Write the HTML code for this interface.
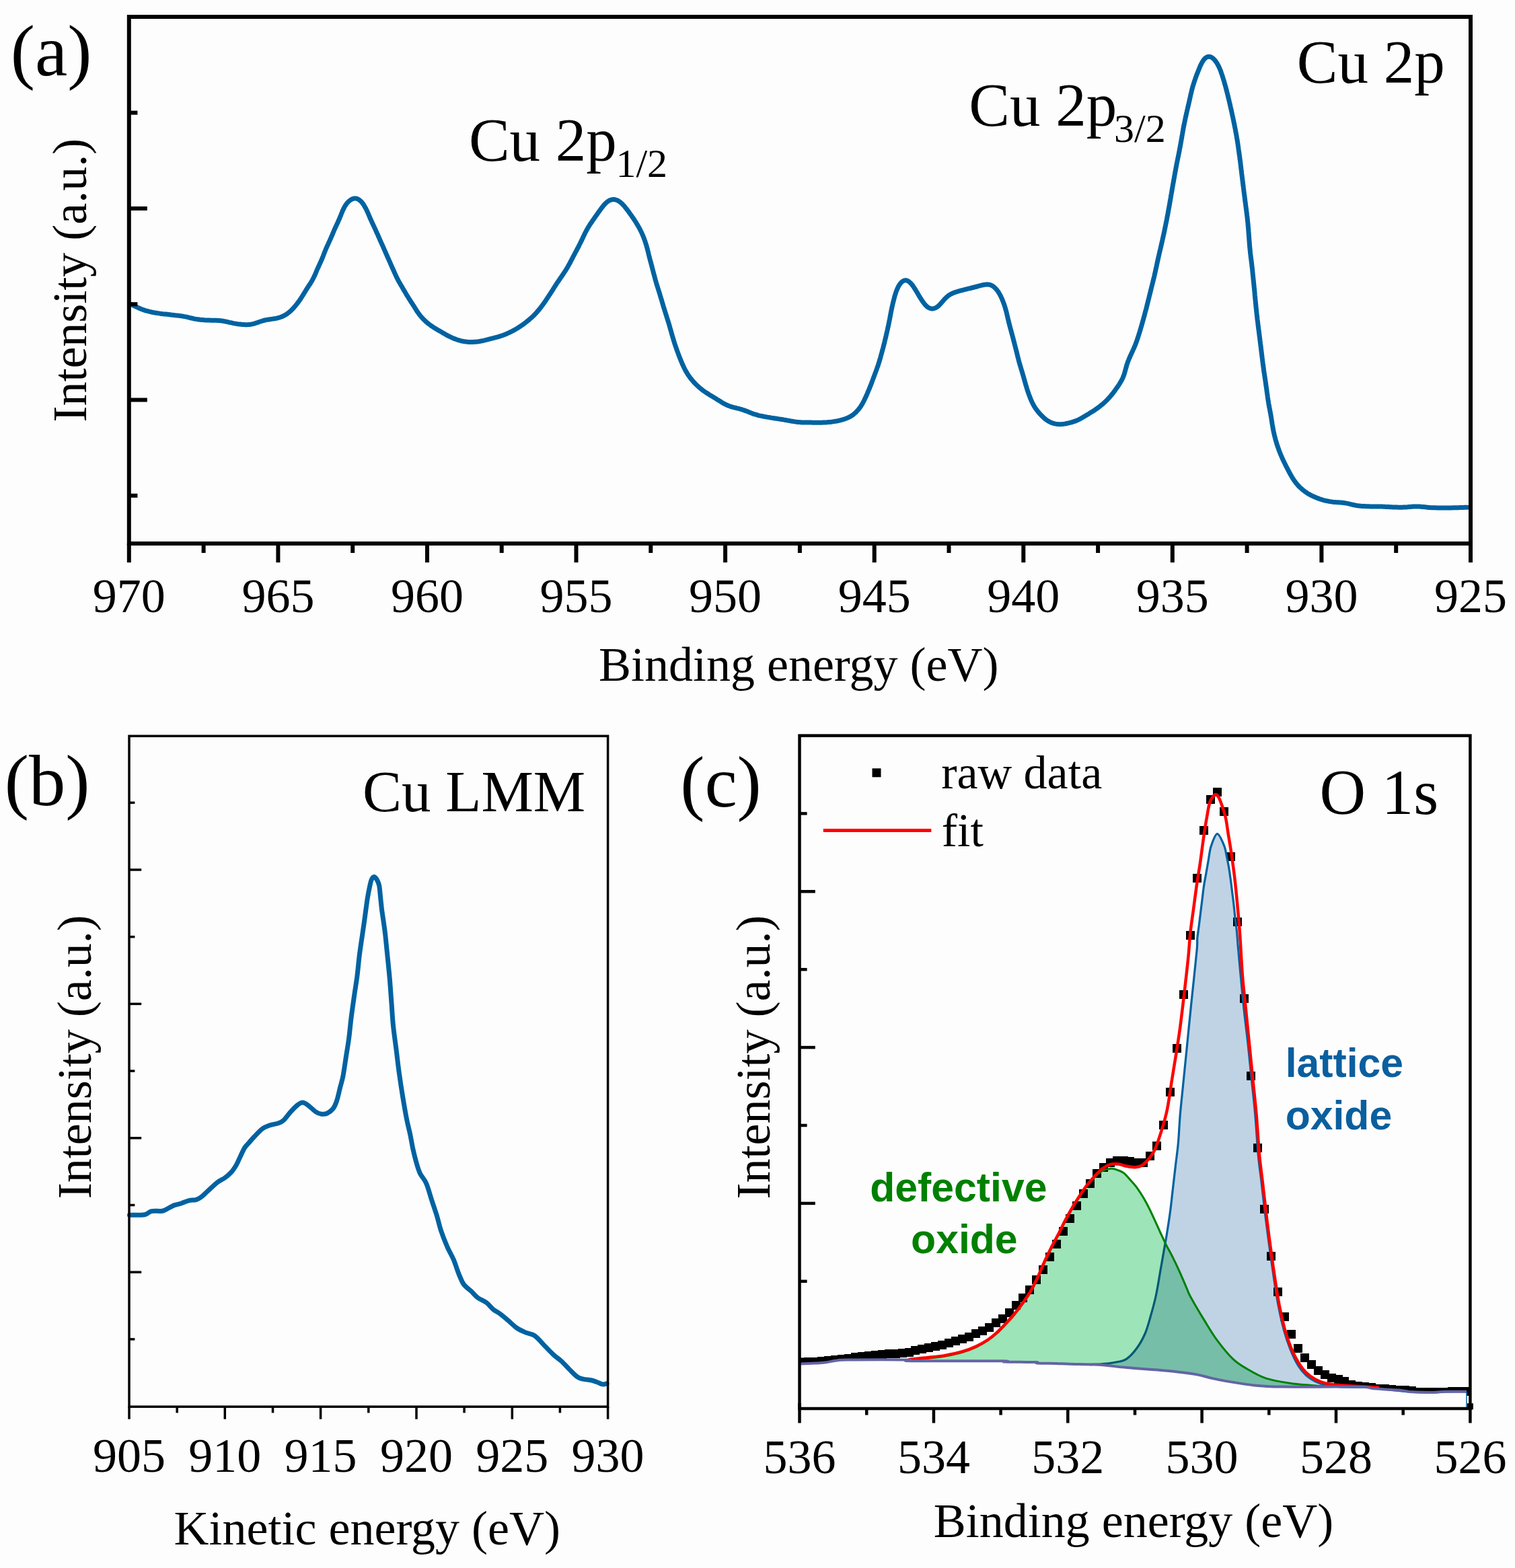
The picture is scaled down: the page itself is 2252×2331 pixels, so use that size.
<!DOCTYPE html>
<html><head><meta charset="utf-8"><title>XPS spectra</title>
<style>html,body{margin:0;padding:0;background:#fdfdfd;}svg{display:block;}</style></head>
<body><svg xmlns="http://www.w3.org/2000/svg" width="2252" height="2331" viewBox="0 0 2252 2331">
<rect width="2252" height="2331" fill="#fdfdfd"/>
<clipPath id="clipc"><rect x="1188.5" y="1093.6" width="996.9000000000001" height="1000.4000000000001"/></clipPath>
<g fill="#000" clip-path="url(#clipc)">
<rect x="1185.0" y="2020.0" width="13.0" height="13.0"/>
<rect x="1195.0" y="2018.0" width="13.0" height="13.0"/>
<rect x="1205.0" y="2018.0" width="13.0" height="13.0"/>
<rect x="1215.0" y="2017.0" width="13.0" height="13.0"/>
<rect x="1225.0" y="2016.0" width="13.0" height="13.0"/>
<rect x="1235.0" y="2015.0" width="13.0" height="13.0"/>
<rect x="1245.0" y="2014.0" width="13.0" height="13.0"/>
<rect x="1255.0" y="2013.0" width="13.0" height="13.0"/>
<rect x="1265.0" y="2011.0" width="13.0" height="13.0"/>
<rect x="1275.0" y="2010.0" width="13.0" height="13.0"/>
<rect x="1285.0" y="2009.0" width="13.0" height="13.0"/>
<rect x="1295.0" y="2008.0" width="13.0" height="13.0"/>
<rect x="1305.0" y="2007.0" width="13.0" height="13.0"/>
<rect x="1315.0" y="2006.0" width="13.0" height="13.0"/>
<rect x="1325.0" y="2006.0" width="13.0" height="13.0"/>
<rect x="1335.0" y="2005.0" width="13.0" height="13.0"/>
<rect x="1345.0" y="2004.0" width="13.0" height="13.0"/>
<rect x="1354.0" y="2001.0" width="13.0" height="13.0"/>
<rect x="1364.0" y="1999.0" width="13.0" height="13.0"/>
<rect x="1374.0" y="1997.0" width="13.0" height="13.0"/>
<rect x="1384.0" y="1995.0" width="13.0" height="13.0"/>
<rect x="1394.0" y="1993.0" width="13.0" height="13.0"/>
<rect x="1404.0" y="1990.0" width="13.0" height="13.0"/>
<rect x="1414.0" y="1987.0" width="13.0" height="13.0"/>
<rect x="1424.0" y="1984.0" width="13.0" height="13.0"/>
<rect x="1434.0" y="1981.0" width="13.0" height="13.0"/>
<rect x="1444.0" y="1976.0" width="13.0" height="13.0"/>
<rect x="1454.0" y="1972.0" width="13.0" height="13.0"/>
<rect x="1464.0" y="1967.0" width="13.0" height="13.0"/>
<rect x="1474.0" y="1960.0" width="13.0" height="13.0"/>
<rect x="1484.0" y="1954.0" width="13.0" height="13.0"/>
<rect x="1494.0" y="1945.0" width="13.0" height="13.0"/>
<rect x="1504.0" y="1934.0" width="13.0" height="13.0"/>
<rect x="1514.0" y="1923.0" width="13.0" height="13.0"/>
<rect x="1524.0" y="1911.0" width="13.0" height="13.0"/>
<rect x="1534.0" y="1896.0" width="13.0" height="13.0"/>
<rect x="1544.0" y="1881.0" width="13.0" height="13.0"/>
<rect x="1554.0" y="1862.0" width="13.0" height="13.0"/>
<rect x="1564.0" y="1843.0" width="13.0" height="13.0"/>
<rect x="1574.0" y="1824.0" width="13.0" height="13.0"/>
<rect x="1584.0" y="1805.0" width="13.0" height="13.0"/>
<rect x="1594.0" y="1786.0" width="13.0" height="13.0"/>
<rect x="1604.0" y="1768.0" width="13.0" height="13.0"/>
<rect x="1614.0" y="1753.0" width="13.0" height="13.0"/>
<rect x="1624.0" y="1738.0" width="13.0" height="13.0"/>
<rect x="1634.0" y="1729.0" width="13.0" height="13.0"/>
<rect x="1644.0" y="1722.0" width="13.0" height="13.0"/>
<rect x="1654.0" y="1719.0" width="13.0" height="13.0"/>
<rect x="1664.0" y="1719.0" width="13.0" height="13.0"/>
<rect x="1673.0" y="1720.0" width="13.0" height="13.0"/>
<rect x="1683.0" y="1722.0" width="13.0" height="13.0"/>
<rect x="1693.0" y="1722.0" width="13.0" height="13.0"/>
<rect x="1703.0" y="1712.0" width="13.0" height="13.0"/>
<rect x="1713.0" y="1697.0" width="13.0" height="13.0"/>
<rect x="1723.0" y="1666.0" width="13.0" height="13.0"/>
<rect x="1733.0" y="1617.0" width="13.0" height="13.0"/>
<rect x="1743.0" y="1552.0" width="13.0" height="13.0"/>
<rect x="1753.0" y="1472.0" width="13.0" height="13.0"/>
<rect x="1763.0" y="1384.0" width="13.0" height="13.0"/>
<rect x="1773.0" y="1299.0" width="13.0" height="13.0"/>
<rect x="1783.0" y="1228.0" width="13.0" height="13.0"/>
<rect x="1793.0" y="1182.0" width="13.0" height="13.0"/>
<rect x="1803.0" y="1171.0" width="13.0" height="13.0"/>
<rect x="1813.0" y="1200.0" width="13.0" height="13.0"/>
<rect x="1823.0" y="1267.0" width="13.0" height="13.0"/>
<rect x="1833.0" y="1364.0" width="13.0" height="13.0"/>
<rect x="1843.0" y="1478.0" width="13.0" height="13.0"/>
<rect x="1853.0" y="1593.0" width="13.0" height="13.0"/>
<rect x="1863.0" y="1700.0" width="13.0" height="13.0"/>
<rect x="1873.0" y="1791.0" width="13.0" height="13.0"/>
<rect x="1883.0" y="1861.0" width="13.0" height="13.0"/>
<rect x="1893.0" y="1914.0" width="13.0" height="13.0"/>
<rect x="1903.0" y="1951.0" width="13.0" height="13.0"/>
<rect x="1913.0" y="1977.0" width="13.0" height="13.0"/>
<rect x="1923.0" y="1998.0" width="13.0" height="13.0"/>
<rect x="1933.0" y="2012.0" width="13.0" height="13.0"/>
<rect x="1943.0" y="2022.0" width="13.0" height="13.0"/>
<rect x="1953.0" y="2031.0" width="13.0" height="13.0"/>
<rect x="1963.0" y="2037.0" width="13.0" height="13.0"/>
<rect x="1973.0" y="2042.0" width="13.0" height="13.0"/>
<rect x="1983.0" y="2044.0" width="13.0" height="13.0"/>
<rect x="1992.0" y="2047.0" width="13.0" height="13.0"/>
<rect x="2002.0" y="2052.0" width="13.0" height="13.0"/>
<rect x="2012.0" y="2054.0" width="13.0" height="13.0"/>
<rect x="2022.0" y="2055.0" width="13.0" height="13.0"/>
<rect x="2032.0" y="2056.0" width="13.0" height="13.0"/>
<rect x="2042.0" y="2058.0" width="13.0" height="13.0"/>
<rect x="2052.0" y="2058.0" width="13.0" height="13.0"/>
<rect x="2062.0" y="2059.0" width="13.0" height="13.0"/>
<rect x="2072.0" y="2060.0" width="13.0" height="13.0"/>
<rect x="2082.0" y="2060.0" width="13.0" height="13.0"/>
<rect x="2092.0" y="2061.0" width="13.0" height="13.0"/>
<rect x="2102.0" y="2063.0" width="13.0" height="13.0"/>
<rect x="2112.0" y="2063.0" width="13.0" height="13.0"/>
<rect x="2122.0" y="2063.0" width="13.0" height="13.0"/>
<rect x="2132.0" y="2063.0" width="13.0" height="13.0"/>
<rect x="2142.0" y="2063.0" width="13.0" height="13.0"/>
<rect x="2152.0" y="2062.0" width="13.0" height="13.0"/>
<rect x="2162.0" y="2062.0" width="13.0" height="13.0"/>
<rect x="2172.0" y="2062.0" width="13.0" height="13.0"/>
<rect x="2182.0" y="2062.0" width="13.0" height="13.0"/>
</g>
<path d="M1188.5,2027.5C1192.5,2027.3 1206.2,2026.8 1212.5,2026.5C1218.8,2026.2 1220.7,2026.2 1226.0,2025.5C1231.3,2024.8 1238.4,2023.2 1244.1,2022.5C1249.8,2021.8 1242.4,2021.8 1260.0,2021.6C1277.6,2021.4 1334.0,2021.3 1349.7,2021.6C1365.4,2021.9 1330.8,2022.9 1354.0,2023.2C1377.2,2023.5 1465.8,2023.1 1489.0,2023.3C1512.2,2023.5 1484.5,2024.3 1493.0,2024.6C1501.5,2024.9 1531.5,2024.8 1539.7,2025.1C1547.9,2025.4 1537.0,2026.1 1542.0,2026.4C1547.0,2026.7 1562.0,2026.8 1570.0,2027.0C1578.0,2027.2 1579.6,2027.5 1590.0,2027.8C1600.4,2028.1 1618.1,2027.9 1632.2,2028.8C1646.3,2029.7 1660.4,2031.8 1674.5,2033.0C1688.6,2034.2 1704.0,2035.1 1716.7,2036.2C1729.4,2037.3 1739.9,2038.2 1750.5,2039.4C1761.1,2040.6 1771.6,2042.0 1780.1,2043.6C1788.5,2045.2 1794.2,2047.3 1801.2,2048.9C1808.2,2050.5 1811.7,2051.3 1822.3,2053.1C1832.9,2054.8 1850.5,2058.0 1864.6,2059.4C1878.7,2060.8 1885.9,2061.2 1906.8,2061.6C1927.7,2062.0 1969.7,2061.5 1990.0,2061.6C2010.3,2061.7 2020.5,2061.7 2028.8,2062.1C2037.1,2062.5 2034.7,2063.5 2039.9,2064.1C2045.1,2064.7 2053.2,2065.1 2059.8,2065.5C2066.5,2065.9 2074.6,2066.2 2079.8,2066.6C2085.0,2067.0 2087.6,2067.8 2090.9,2068.2C2094.2,2068.6 2093.2,2069.0 2099.7,2069.3C2106.2,2069.6 2121.4,2070.0 2129.7,2069.9C2138.0,2069.8 2141.2,2069.0 2149.6,2068.8C2158.0,2068.6 2174.9,2068.8 2180.0,2068.8L2180.0,2094.0L1188.5,2094.0Z" fill="#fdfdfd"/>
<g>
<path d="M1620.0,2028.6C1623.2,2028.4 1633.3,2028.0 1639.3,2027.5C1645.3,2027.0 1650.2,2026.7 1656.0,2025.5C1661.8,2024.3 1668.6,2023.9 1674.3,2020.3C1680.0,2016.7 1685.3,2010.4 1690.0,2004.0C1694.7,1997.6 1698.8,1990.2 1702.3,1982.0C1705.8,1973.8 1708.1,1964.3 1710.8,1955.0C1713.5,1945.7 1715.9,1937.0 1718.3,1926.0C1720.7,1915.0 1722.9,1900.5 1724.9,1889.0C1726.9,1877.5 1728.9,1866.1 1730.5,1857.1C1732.1,1848.0 1732.9,1844.0 1734.4,1834.7C1735.9,1825.4 1738.0,1812.2 1739.5,1801.0C1741.0,1789.8 1742.1,1778.5 1743.4,1767.3C1744.7,1756.1 1746.0,1744.9 1747.3,1733.7C1748.6,1722.5 1750.1,1712.7 1751.3,1700.0C1752.5,1687.3 1753.0,1671.8 1754.2,1657.5C1755.4,1643.2 1756.8,1631.5 1758.5,1614.2C1760.2,1596.9 1762.6,1573.8 1764.6,1553.5C1766.6,1533.2 1768.3,1515.9 1770.7,1492.7C1773.1,1469.5 1777.4,1430.5 1778.9,1414.2C1780.4,1397.9 1779.2,1401.3 1779.8,1394.8C1780.4,1388.3 1781.5,1381.9 1782.3,1375.4C1783.1,1368.9 1783.9,1362.5 1784.7,1356.0C1785.5,1349.5 1786.3,1343.1 1787.1,1336.6C1787.9,1330.1 1788.5,1323.7 1789.5,1317.2C1790.5,1310.8 1791.8,1304.4 1792.9,1297.9C1794.0,1291.5 1795.1,1285.1 1796.3,1278.5C1797.5,1271.9 1798.0,1264.6 1800.2,1258.1C1802.4,1251.6 1806.2,1239.9 1809.4,1239.7C1812.6,1239.5 1817.2,1251.4 1819.6,1257.1C1821.9,1262.8 1822.4,1268.4 1823.5,1273.6C1824.6,1278.8 1825.4,1282.5 1826.4,1288.2C1827.4,1293.9 1828.4,1301.0 1829.3,1307.5C1830.2,1314.0 1830.9,1320.4 1831.7,1326.9C1832.5,1333.4 1833.4,1339.8 1834.1,1346.3C1834.8,1352.8 1835.4,1359.2 1836.1,1365.7C1836.8,1372.2 1837.8,1378.6 1838.5,1385.1C1839.2,1391.6 1839.2,1395.3 1840.0,1404.5C1840.8,1413.7 1841.7,1424.1 1843.2,1440.0C1844.7,1455.9 1847.0,1481.1 1849.0,1500.0C1851.0,1518.9 1853.3,1535.9 1855.2,1553.5C1857.1,1571.1 1858.7,1588.2 1860.5,1605.5C1862.3,1622.8 1864.2,1639.0 1865.8,1657.5C1867.4,1676.0 1868.7,1700.2 1870.2,1716.5C1871.7,1732.8 1873.1,1740.7 1874.8,1755.1C1876.5,1769.5 1878.4,1787.6 1880.3,1802.9C1882.2,1818.2 1884.0,1832.0 1886.0,1847.0C1888.0,1862.0 1890.2,1877.5 1892.5,1893.0C1894.8,1908.5 1897.3,1925.9 1900.0,1940.0C1902.7,1954.1 1905.5,1966.5 1908.5,1977.5C1911.5,1988.5 1914.6,1997.4 1918.0,2006.0C1921.4,2014.6 1925.2,2022.7 1929.0,2029.0C1932.8,2035.3 1936.5,2039.8 1941.0,2044.0C1945.5,2048.2 1950.8,2051.4 1956.0,2054.0C1961.2,2056.6 1966.3,2058.2 1972.0,2059.5C1977.7,2060.8 1980.3,2061.2 1990.0,2061.6C1999.7,2062.0 2018.3,2061.4 2030.0,2062.1C2041.7,2062.8 2048.3,2064.3 2060.0,2065.5C2071.7,2066.7 2088.3,2068.6 2100.0,2069.3C2111.7,2070.0 2121.7,2070.0 2130.0,2069.9C2138.3,2069.8 2141.7,2069.0 2150.0,2068.8C2158.3,2068.6 2174.7,2068.8 2179.6,2068.8L2179.6,2068.8L2170.1,2068.8L2160.6,2068.8L2151.1,2068.8L2141.7,2069.2L2132.2,2069.8L2122.7,2069.8L2113.2,2069.6L2103.7,2069.4L2094.2,2068.6L2084.8,2067.3L2075.3,2066.4L2065.8,2065.8L2056.3,2065.3L2046.8,2064.6L2037.3,2063.6L2027.8,2062.1L2018.4,2062.0L2008.9,2061.8L1999.4,2061.7L1989.9,2061.6L1980.4,2061.6L1970.9,2061.6L1961.5,2061.6L1952.0,2061.6L1942.5,2061.6L1933.0,2061.6L1923.5,2061.6L1914.0,2061.6L1904.5,2061.5L1895.1,2061.0L1885.6,2060.5L1876.1,2060.0L1866.6,2059.5L1857.1,2058.3L1847.6,2056.9L1838.1,2055.5L1828.7,2054.0L1819.2,2052.5L1809.7,2050.6L1800.2,2048.7L1790.7,2046.3L1781.2,2043.9L1771.8,2042.4L1762.3,2041.1L1752.8,2039.7L1743.3,2038.7L1733.8,2037.8L1724.3,2036.9L1714.8,2036.1L1705.4,2035.3L1695.9,2034.6L1686.4,2033.9L1676.9,2033.2L1667.4,2032.3L1657.9,2031.4L1648.5,2030.4L1639.0,2029.5L1629.5,2028.7L1620.0,2028.5Z" fill="#c1d5e7" stroke="none" style="mix-blend-mode:multiply"/>
<path d="M1620.0,2028.6C1623.2,2028.4 1633.3,2028.0 1639.3,2027.5C1645.3,2027.0 1650.2,2026.7 1656.0,2025.5C1661.8,2024.3 1668.6,2023.9 1674.3,2020.3C1680.0,2016.7 1685.3,2010.4 1690.0,2004.0C1694.7,1997.6 1698.8,1990.2 1702.3,1982.0C1705.8,1973.8 1708.1,1964.3 1710.8,1955.0C1713.5,1945.7 1715.9,1937.0 1718.3,1926.0C1720.7,1915.0 1722.9,1900.5 1724.9,1889.0C1726.9,1877.5 1728.9,1866.1 1730.5,1857.1C1732.1,1848.0 1732.9,1844.0 1734.4,1834.7C1735.9,1825.4 1738.0,1812.2 1739.5,1801.0C1741.0,1789.8 1742.1,1778.5 1743.4,1767.3C1744.7,1756.1 1746.0,1744.9 1747.3,1733.7C1748.6,1722.5 1750.1,1712.7 1751.3,1700.0C1752.5,1687.3 1753.0,1671.8 1754.2,1657.5C1755.4,1643.2 1756.8,1631.5 1758.5,1614.2C1760.2,1596.9 1762.6,1573.8 1764.6,1553.5C1766.6,1533.2 1768.3,1515.9 1770.7,1492.7C1773.1,1469.5 1777.4,1430.5 1778.9,1414.2C1780.4,1397.9 1779.2,1401.3 1779.8,1394.8C1780.4,1388.3 1781.5,1381.9 1782.3,1375.4C1783.1,1368.9 1783.9,1362.5 1784.7,1356.0C1785.5,1349.5 1786.3,1343.1 1787.1,1336.6C1787.9,1330.1 1788.5,1323.7 1789.5,1317.2C1790.5,1310.8 1791.8,1304.4 1792.9,1297.9C1794.0,1291.5 1795.1,1285.1 1796.3,1278.5C1797.5,1271.9 1798.0,1264.6 1800.2,1258.1C1802.4,1251.6 1806.2,1239.9 1809.4,1239.7C1812.6,1239.5 1817.2,1251.4 1819.6,1257.1C1821.9,1262.8 1822.4,1268.4 1823.5,1273.6C1824.6,1278.8 1825.4,1282.5 1826.4,1288.2C1827.4,1293.9 1828.4,1301.0 1829.3,1307.5C1830.2,1314.0 1830.9,1320.4 1831.7,1326.9C1832.5,1333.4 1833.4,1339.8 1834.1,1346.3C1834.8,1352.8 1835.4,1359.2 1836.1,1365.7C1836.8,1372.2 1837.8,1378.6 1838.5,1385.1C1839.2,1391.6 1839.2,1395.3 1840.0,1404.5C1840.8,1413.7 1841.7,1424.1 1843.2,1440.0C1844.7,1455.9 1847.0,1481.1 1849.0,1500.0C1851.0,1518.9 1853.3,1535.9 1855.2,1553.5C1857.1,1571.1 1858.7,1588.2 1860.5,1605.5C1862.3,1622.8 1864.2,1639.0 1865.8,1657.5C1867.4,1676.0 1868.7,1700.2 1870.2,1716.5C1871.7,1732.8 1873.1,1740.7 1874.8,1755.1C1876.5,1769.5 1878.4,1787.6 1880.3,1802.9C1882.2,1818.2 1884.0,1832.0 1886.0,1847.0C1888.0,1862.0 1890.2,1877.5 1892.5,1893.0C1894.8,1908.5 1897.3,1925.9 1900.0,1940.0C1902.7,1954.1 1905.5,1966.5 1908.5,1977.5C1911.5,1988.5 1914.6,1997.4 1918.0,2006.0C1921.4,2014.6 1925.2,2022.7 1929.0,2029.0C1932.8,2035.3 1936.5,2039.8 1941.0,2044.0C1945.5,2048.2 1950.8,2051.4 1956.0,2054.0C1961.2,2056.6 1966.3,2058.2 1972.0,2059.5C1977.7,2060.8 1980.3,2061.2 1990.0,2061.6C1999.7,2062.0 2018.3,2061.4 2030.0,2062.1C2041.7,2062.8 2048.3,2064.3 2060.0,2065.5C2071.7,2066.7 2088.3,2068.6 2100.0,2069.3C2111.7,2070.0 2121.7,2070.0 2130.0,2069.9C2138.3,2069.8 2141.7,2069.0 2150.0,2068.8C2158.3,2068.6 2174.7,2068.8 2179.6,2068.8" fill="none" stroke="#0062a1" stroke-width="3.2" stroke-linejoin="round"/>
<path d="M1350.5,2021.4C1355.4,2021.0 1370.9,2020.1 1380.0,2019.2C1389.1,2018.3 1396.8,2017.4 1405.3,2015.9C1413.8,2014.4 1423.1,2012.4 1430.7,2010.2C1438.3,2008.0 1444.7,2005.5 1451.0,2002.6C1457.3,1999.6 1463.6,1995.9 1468.7,1992.5C1473.8,1989.1 1477.2,1986.2 1481.4,1982.4C1485.6,1978.6 1489.8,1974.1 1494.0,1969.7C1498.2,1965.3 1502.5,1960.9 1506.7,1955.8C1510.9,1950.7 1515.2,1945.2 1519.4,1939.3C1523.6,1933.4 1528.3,1926.8 1532.1,1920.3C1535.9,1913.8 1538.8,1907.6 1542.2,1900.5C1545.6,1893.4 1548.7,1885.2 1552.2,1877.5C1555.8,1869.8 1559.9,1861.2 1563.5,1854.1C1567.1,1847.0 1570.3,1841.3 1573.7,1834.7C1577.1,1828.1 1580.5,1820.8 1583.9,1814.3C1587.3,1807.8 1590.7,1801.7 1594.1,1795.9C1597.5,1790.1 1600.7,1785.0 1604.3,1779.6C1607.9,1774.1 1611.8,1768.0 1615.5,1763.2C1619.2,1758.4 1623.0,1754.2 1626.7,1750.5C1630.5,1746.8 1633.8,1743.2 1638.0,1741.0C1642.2,1738.8 1648.1,1737.4 1652.2,1737.2C1656.3,1737.0 1659.3,1738.7 1662.4,1739.8C1665.5,1740.9 1667.7,1741.6 1670.6,1743.9C1673.5,1746.2 1676.6,1750.0 1680.0,1753.9C1683.4,1757.8 1687.5,1762.1 1691.2,1767.3C1694.9,1772.5 1698.7,1778.5 1702.4,1785.3C1706.2,1792.0 1710.0,1799.9 1713.7,1807.8C1717.5,1815.7 1721.7,1825.6 1724.9,1832.5C1728.1,1839.4 1729.8,1843.3 1732.8,1849.3C1735.8,1855.3 1739.5,1861.7 1742.9,1868.4C1746.3,1875.1 1749.5,1881.9 1753.0,1889.7C1756.5,1897.5 1761.5,1909.2 1764.2,1915.5C1767.0,1921.8 1765.1,1919.5 1769.5,1927.5C1773.9,1935.5 1783.9,1952.5 1790.6,1963.4C1797.3,1974.3 1802.5,1983.4 1809.6,1992.9C1816.6,2002.4 1825.5,2013.4 1832.9,2020.4C1840.3,2027.5 1845.9,2030.5 1854.0,2035.2C1862.1,2040.0 1870.9,2045.4 1881.4,2048.9C1892.0,2052.4 1906.0,2054.6 1917.3,2056.3C1928.6,2058.1 1938.5,2058.5 1949.0,2059.4C1959.5,2060.3 1974.8,2061.2 1980.0,2061.6L1980.0,2061.6L1969.3,2061.6L1958.7,2061.6L1948.0,2061.6L1937.3,2061.6L1926.7,2061.6L1916.0,2061.6L1905.3,2061.5L1894.6,2061.0L1884.0,2060.4L1873.3,2059.9L1862.6,2059.1L1852.0,2057.5L1841.3,2055.9L1830.6,2054.3L1820.0,2052.6L1809.3,2050.5L1798.6,2048.3L1787.9,2045.6L1777.3,2043.2L1766.6,2041.7L1755.9,2040.2L1745.3,2038.9L1734.6,2037.9L1723.9,2036.9L1713.3,2035.9L1702.6,2035.1L1691.9,2034.3L1681.3,2033.5L1670.6,2032.6L1659.9,2031.6L1649.2,2030.5L1638.6,2029.4L1627.9,2028.7L1617.2,2028.4L1606.6,2028.2L1595.9,2027.9L1585.2,2027.6L1574.6,2027.2L1563.9,2026.9L1553.2,2026.6L1542.6,2026.4L1531.9,2025.0L1521.2,2024.9L1510.5,2024.8L1499.9,2024.7L1489.2,2023.4L1478.5,2023.3L1467.9,2023.3L1457.2,2023.3L1446.5,2023.3L1435.9,2023.3L1425.2,2023.3L1414.5,2023.2L1403.8,2023.2L1393.2,2023.2L1382.5,2023.2L1371.8,2023.2L1361.2,2023.2L1350.5,2021.9Z" fill="#9ee6ba" stroke="none" style="mix-blend-mode:multiply"/>
</g>
<path d="M1350.5,2021.4C1355.4,2021.0 1370.9,2020.1 1380.0,2019.2C1389.1,2018.3 1396.8,2017.4 1405.3,2015.9C1413.8,2014.4 1423.1,2012.4 1430.7,2010.2C1438.3,2008.0 1444.7,2005.5 1451.0,2002.6C1457.3,1999.6 1463.6,1995.9 1468.7,1992.5C1473.8,1989.1 1477.2,1986.2 1481.4,1982.4C1485.6,1978.6 1489.8,1974.1 1494.0,1969.7C1498.2,1965.3 1502.5,1960.9 1506.7,1955.8C1510.9,1950.7 1515.2,1945.2 1519.4,1939.3C1523.6,1933.4 1528.3,1926.8 1532.1,1920.3C1535.9,1913.8 1538.8,1907.6 1542.2,1900.5C1545.6,1893.4 1548.7,1885.2 1552.2,1877.5C1555.8,1869.8 1559.9,1861.2 1563.5,1854.1C1567.1,1847.0 1570.3,1841.3 1573.7,1834.7C1577.1,1828.1 1580.5,1820.8 1583.9,1814.3C1587.3,1807.8 1590.7,1801.7 1594.1,1795.9C1597.5,1790.1 1600.7,1785.0 1604.3,1779.6C1607.9,1774.1 1611.8,1768.0 1615.5,1763.2C1619.2,1758.4 1623.0,1754.2 1626.7,1750.5C1630.5,1746.8 1633.8,1743.2 1638.0,1741.0C1642.2,1738.8 1648.1,1737.4 1652.2,1737.2C1656.3,1737.0 1659.3,1738.7 1662.4,1739.8C1665.5,1740.9 1667.7,1741.6 1670.6,1743.9C1673.5,1746.2 1676.6,1750.0 1680.0,1753.9C1683.4,1757.8 1687.5,1762.1 1691.2,1767.3C1694.9,1772.5 1698.7,1778.5 1702.4,1785.3C1706.2,1792.0 1710.0,1799.9 1713.7,1807.8C1717.5,1815.7 1721.7,1825.6 1724.9,1832.5C1728.1,1839.4 1729.8,1843.3 1732.8,1849.3C1735.8,1855.3 1739.5,1861.7 1742.9,1868.4C1746.3,1875.1 1749.5,1881.9 1753.0,1889.7C1756.5,1897.5 1761.5,1909.2 1764.2,1915.5C1767.0,1921.8 1765.1,1919.5 1769.5,1927.5C1773.9,1935.5 1783.9,1952.5 1790.6,1963.4C1797.3,1974.3 1802.5,1983.4 1809.6,1992.9C1816.6,2002.4 1825.5,2013.4 1832.9,2020.4C1840.3,2027.5 1845.9,2030.5 1854.0,2035.2C1862.1,2040.0 1870.9,2045.4 1881.4,2048.9C1892.0,2052.4 1906.0,2054.6 1917.3,2056.3C1928.6,2058.1 1938.5,2058.5 1949.0,2059.4C1959.5,2060.3 1974.8,2061.2 1980.0,2061.6" fill="none" stroke="#008000" stroke-width="3" stroke-linejoin="round"/>
<path d="M1350.5,2021.0C1355.4,2020.5 1370.9,2019.1 1380.0,2018.1C1389.1,2017.1 1396.8,2016.4 1405.3,2014.9C1413.8,2013.4 1423.1,2011.4 1430.7,2009.2C1438.3,2007.0 1444.7,2004.5 1451.0,2001.6C1457.3,1998.6 1463.6,1994.9 1468.7,1991.5C1473.8,1988.1 1477.2,1985.2 1481.4,1981.4C1485.6,1977.6 1489.8,1973.1 1494.0,1968.7C1498.2,1964.3 1502.5,1959.9 1506.7,1954.8C1510.9,1949.7 1515.2,1944.2 1519.4,1938.3C1523.6,1932.4 1528.3,1925.8 1532.1,1919.3C1535.9,1912.8 1538.8,1906.6 1542.2,1899.5C1545.6,1892.4 1548.7,1884.2 1552.2,1876.5C1555.8,1868.8 1559.9,1860.2 1563.5,1853.1C1567.1,1846.0 1570.3,1840.3 1573.7,1833.7C1577.1,1827.1 1580.5,1819.8 1583.9,1813.3C1587.3,1806.8 1590.7,1800.7 1594.1,1794.9C1597.5,1789.1 1600.7,1784.0 1604.3,1778.6C1607.9,1773.1 1611.8,1767.1 1615.5,1762.2C1619.2,1757.3 1623.0,1753.1 1626.7,1749.0C1630.5,1744.9 1634.1,1740.8 1638.0,1737.8C1641.9,1734.8 1646.1,1732.3 1650.2,1731.1C1654.3,1729.9 1658.3,1730.2 1662.4,1730.6C1666.5,1731.0 1670.6,1732.9 1674.7,1733.7C1678.8,1734.5 1683.2,1735.4 1686.9,1735.2C1690.6,1735.0 1694.0,1734.3 1697.1,1732.7C1700.2,1731.1 1702.8,1728.2 1705.3,1725.5C1707.8,1722.8 1710.3,1719.5 1712.4,1716.3C1714.5,1713.1 1715.3,1712.4 1717.8,1706.1C1720.3,1699.8 1724.4,1687.9 1727.3,1678.4C1730.2,1668.9 1732.6,1661.1 1735.1,1648.9C1737.5,1636.8 1739.7,1620.0 1742.0,1605.5C1744.3,1591.0 1747.0,1575.1 1749.0,1562.1C1751.0,1549.1 1752.3,1541.6 1754.2,1527.4C1756.1,1513.2 1758.3,1494.4 1760.3,1477.1C1762.3,1459.8 1764.8,1438.5 1766.3,1423.4C1767.8,1408.3 1768.1,1398.8 1769.4,1386.5C1770.7,1374.2 1772.7,1362.0 1774.3,1349.8C1775.9,1337.6 1777.6,1324.3 1779.2,1313.1C1780.8,1301.9 1782.5,1293.6 1784.1,1282.4C1785.7,1271.2 1787.4,1256.9 1789.0,1245.7C1790.6,1234.5 1792.2,1224.2 1793.9,1215.1C1795.6,1206.0 1796.5,1196.7 1799.0,1191.2C1801.5,1185.7 1805.6,1178.6 1809.2,1182.0C1812.8,1185.4 1818.0,1201.8 1820.8,1211.4C1823.5,1221.0 1824.1,1229.8 1825.7,1239.6C1827.3,1249.4 1829.0,1259.0 1830.6,1270.2C1832.2,1281.4 1834.1,1294.7 1835.5,1306.9C1836.9,1319.2 1838.0,1330.4 1839.2,1343.7C1840.4,1357.0 1841.6,1368.9 1842.9,1386.5C1844.2,1404.1 1845.3,1430.2 1846.8,1449.4C1848.3,1468.6 1850.3,1484.1 1852.0,1501.4C1853.7,1518.8 1855.5,1536.2 1857.2,1553.5C1858.9,1570.8 1860.7,1588.2 1862.4,1605.5C1864.1,1622.8 1866.0,1639.0 1867.6,1657.5C1869.2,1676.0 1870.5,1700.2 1872.0,1716.5C1873.5,1732.8 1874.8,1740.7 1876.5,1755.1C1878.2,1769.5 1880.2,1787.6 1882.0,1802.9C1883.8,1818.2 1885.6,1832.0 1887.6,1847.0C1889.6,1862.0 1891.7,1877.6 1894.0,1892.9C1896.3,1908.2 1898.7,1925.0 1901.3,1938.8C1903.9,1952.6 1906.7,1964.8 1909.6,1975.5C1912.5,1986.2 1915.4,1994.8 1918.8,2003.1C1922.2,2011.4 1926.1,2019.0 1929.8,2025.1C1933.5,2031.2 1936.5,2035.5 1940.8,2039.8C1945.1,2044.1 1950.6,2048.0 1955.5,2050.8C1960.4,2053.6 1964.7,2055.0 1970.2,2056.4C1975.7,2057.8 1982.0,2058.4 1988.6,2059.1C1995.2,2059.8 1999.8,2059.9 2010.0,2060.5C2020.2,2061.1 2043.3,2062.2 2050.0,2062.5" fill="none" stroke="#ff0000" stroke-width="4.5" stroke-linejoin="round"/>
<path d="M1188.5,2027.5C1192.5,2027.3 1206.2,2026.8 1212.5,2026.5C1218.8,2026.2 1220.7,2026.2 1226.0,2025.5C1231.3,2024.8 1238.4,2023.2 1244.1,2022.5C1249.8,2021.8 1242.4,2021.8 1260.0,2021.6C1277.6,2021.4 1334.0,2021.3 1349.7,2021.6C1365.4,2021.9 1330.8,2022.9 1354.0,2023.2C1377.2,2023.5 1465.8,2023.1 1489.0,2023.3C1512.2,2023.5 1484.5,2024.3 1493.0,2024.6C1501.5,2024.9 1531.5,2024.8 1539.7,2025.1C1547.9,2025.4 1537.0,2026.1 1542.0,2026.4C1547.0,2026.7 1562.0,2026.8 1570.0,2027.0C1578.0,2027.2 1579.6,2027.5 1590.0,2027.8C1600.4,2028.1 1618.1,2027.9 1632.2,2028.8C1646.3,2029.7 1660.4,2031.8 1674.5,2033.0C1688.6,2034.2 1704.0,2035.1 1716.7,2036.2C1729.4,2037.3 1739.9,2038.2 1750.5,2039.4C1761.1,2040.6 1771.6,2042.0 1780.1,2043.6C1788.5,2045.2 1794.2,2047.3 1801.2,2048.9C1808.2,2050.5 1811.7,2051.3 1822.3,2053.1C1832.9,2054.8 1850.5,2058.0 1864.6,2059.4C1878.7,2060.8 1885.9,2061.2 1906.8,2061.6C1927.7,2062.0 1969.7,2061.5 1990.0,2061.6C2010.3,2061.7 2020.5,2061.7 2028.8,2062.1C2037.1,2062.5 2034.7,2063.5 2039.9,2064.1C2045.1,2064.7 2053.2,2065.1 2059.8,2065.5C2066.5,2065.9 2074.6,2066.2 2079.8,2066.6C2085.0,2067.0 2087.6,2067.8 2090.9,2068.2C2094.2,2068.6 2093.2,2069.0 2099.7,2069.3C2106.2,2069.6 2121.4,2070.0 2129.7,2069.9C2138.0,2069.8 2141.2,2069.0 2149.6,2068.8C2158.0,2068.6 2174.9,2068.8 2180.0,2068.8" fill="none" stroke="#6464a4" stroke-width="4" stroke-linejoin="round"/>
<rect x="1186" y="2086" width="5" height="8" fill="#000"/>
<rect x="2180.6" y="2086.2" width="9.3" height="9.2" fill="#000"/>
<line x1="2180" y1="2069" x2="2180" y2="2092" stroke="#0062a1" stroke-width="1.5"/>
<path d="M193.9,452.2L194.9,452.6L196.1,453.2L197.5,453.8L199.0,454.5L200.6,455.2L202.4,456.0L204.1,456.9L205.9,457.7L207.7,458.5L209.5,459.3L211.4,460.0L213.2,460.7L215.1,461.3L217.0,461.9L218.9,462.4L220.9,462.9L222.8,463.4L224.8,463.8L226.7,464.3L228.7,464.6L230.6,465.0L232.6,465.3L234.6,465.6L236.6,465.9L238.5,466.2L240.5,466.4L242.5,466.7L244.5,466.9L246.5,467.1L248.5,467.3L250.5,467.5L252.5,467.7L254.4,468.0L256.4,468.2L258.4,468.4L260.4,468.7L262.4,468.9L264.4,469.1L266.4,469.4L268.3,469.6L270.3,469.9L272.3,470.2L274.2,470.6L276.2,470.9L278.1,471.4L280.1,471.8L282.0,472.3L283.9,472.8L285.9,473.2L287.8,473.7L289.8,474.1L291.7,474.4L293.7,474.7L295.7,475.0L297.7,475.3L299.7,475.5L301.6,475.6L303.6,475.8L305.6,475.9L307.6,476.0L309.6,476.1L311.6,476.1L313.6,476.2L315.6,476.2L317.6,476.2L319.6,476.2L321.6,476.3L323.6,476.4L325.6,476.5L327.6,476.7L329.5,476.9L331.5,477.2L333.5,477.6L335.4,478.0L337.4,478.4L339.3,478.8L341.3,479.3L343.2,479.7L345.2,480.2L347.1,480.6L349.1,480.9L351.0,481.3L353.0,481.6L355.0,481.9L357.0,482.1L358.9,482.3L360.9,482.5L362.9,482.6L364.9,482.7L366.9,482.7L368.9,482.6L370.8,482.4L372.8,482.2L374.7,481.8L376.7,481.4L378.6,480.9L380.4,480.3L382.3,479.7L384.2,479.0L386.1,478.3L387.9,477.7L389.8,477.1L391.7,476.5L393.6,476.0L395.6,475.6L397.5,475.3L399.5,475.0L401.4,474.7L403.4,474.4L405.4,474.1L407.4,473.8L409.3,473.5L411.3,473.1L413.2,472.6L415.1,472.1L417.0,471.5L418.8,470.8L420.6,470.0L422.4,469.1L424.1,468.2L425.8,467.1L427.4,466.0L429.0,464.8L430.5,463.6L432.0,462.2L433.4,460.9L434.8,459.5L436.2,458.0L437.5,456.5L438.8,455.0L440.1,453.5L441.3,451.9L442.6,450.3L443.7,448.7L444.9,447.1L446.0,445.4L447.2,443.8L448.2,442.1L449.3,440.4L450.4,438.7L451.4,437.0L452.4,435.3L453.5,433.6L454.5,431.9L455.6,430.2L456.7,428.5L457.7,426.8L458.8,425.2L459.9,423.5L461.0,421.8L462.1,420.1L463.1,418.4L464.1,416.7L465.1,414.9L466.0,413.2L466.8,411.4L467.7,409.6L468.5,407.8L469.3,405.9L470.1,404.1L470.8,402.2L471.6,400.4L472.4,398.6L473.3,396.8L474.1,394.9L474.9,393.1L475.8,391.3L476.6,389.5L477.4,387.7L478.2,385.8L479.0,384.0L479.7,382.1L480.5,380.3L481.2,378.4L481.9,376.6L482.6,374.7L483.4,372.8L484.1,371.0L484.9,369.1L485.7,367.3L486.5,365.5L487.4,363.7L488.2,361.9L489.0,360.0L489.9,358.2L490.7,356.4L491.5,354.6L492.3,352.7L493.1,350.9L493.9,349.1L494.7,347.2L495.4,345.4L496.2,343.5L497.0,341.7L497.8,339.9L498.6,338.1L499.5,336.2L500.3,334.4L501.2,332.6L502.0,330.8L502.8,329.0L503.6,327.1L504.4,325.3L505.2,323.5L505.9,321.6L506.7,319.8L507.4,317.9L508.2,316.1L508.9,314.2L509.7,312.4L510.6,310.6L511.5,308.8L512.4,307.1L513.4,305.4L514.6,303.8L515.7,302.2L517.0,300.8L518.4,299.4L519.8,298.2L521.3,297.1L522.9,296.2L524.5,295.5L526.1,295.1L527.8,294.9L529.5,295.1L531.1,295.5L532.6,296.3L534.1,297.2L535.6,298.4L536.9,299.7L538.2,301.1L539.4,302.7L540.5,304.3L541.5,306.0L542.5,307.7L543.5,309.4L544.4,311.2L545.3,313.0L546.1,314.8L546.9,316.6L547.7,318.5L548.5,320.3L549.3,322.1L550.0,324.0L550.8,325.8L551.7,327.6L552.5,329.4L553.3,331.3L554.2,333.1L555.0,334.9L555.9,336.7L556.7,338.5L557.6,340.3L558.4,342.1L559.2,344.0L560.0,345.8L560.9,347.6L561.7,349.4L562.5,351.3L563.3,353.1L564.1,354.9L564.9,356.8L565.7,358.6L566.5,360.4L567.3,362.2L568.2,364.1L569.0,365.9L569.8,367.7L570.6,369.6L571.4,371.4L572.2,373.2L573.0,375.0L573.8,376.9L574.6,378.7L575.4,380.5L576.2,382.4L577.1,384.2L577.9,386.0L578.7,387.9L579.5,389.7L580.3,391.5L581.1,393.3L581.9,395.2L582.7,397.0L583.5,398.8L584.4,400.7L585.2,402.5L586.0,404.3L586.8,406.1L587.6,408.0L588.5,409.8L589.3,411.6L590.2,413.4L591.1,415.1L592.0,416.9L593.0,418.7L594.0,420.4L595.0,422.2L596.0,423.9L597.0,425.6L598.0,427.3L599.0,429.1L600.0,430.8L601.0,432.5L602.1,434.2L603.1,435.9L604.1,437.7L605.1,439.4L606.2,441.1L607.2,442.8L608.3,444.5L609.4,446.2L610.4,447.8L611.5,449.5L612.6,451.2L613.7,452.9L614.8,454.6L615.9,456.2L616.9,457.9L618.0,459.6L619.0,461.3L620.1,463.0L621.2,464.6L622.4,466.2L623.5,467.8L624.8,469.4L626.0,470.9L627.4,472.4L628.7,473.8L630.1,475.2L631.6,476.6L633.0,478.0L634.5,479.3L636.0,480.6L637.6,481.8L639.2,483.0L640.8,484.2L642.5,485.3L644.1,486.4L645.8,487.5L647.5,488.5L649.2,489.6L650.9,490.6L652.7,491.6L654.4,492.6L656.1,493.6L657.8,494.6L659.6,495.6L661.3,496.6L663.0,497.6L664.8,498.6L666.6,499.5L668.4,500.4L670.2,501.2L672.0,502.1L673.8,502.9L675.7,503.6L677.5,504.3L679.4,505.0L681.3,505.6L683.2,506.2L685.1,506.7L687.1,507.1L689.0,507.5L691.0,507.8L692.9,508.1L694.9,508.3L696.9,508.4L698.9,508.4L700.9,508.5L702.9,508.4L704.9,508.3L706.8,508.2L708.8,508.0L710.8,507.8L712.8,507.5L714.7,507.1L716.7,506.7L718.6,506.3L720.6,505.8L722.5,505.4L724.5,504.9L726.4,504.4L728.3,503.9L730.3,503.4L732.2,502.9L734.2,502.4L736.1,501.9L738.0,501.4L739.9,500.9L741.9,500.3L743.8,499.7L745.7,499.1L747.5,498.4L749.4,497.7L751.3,497.0L753.1,496.2L754.9,495.4L756.8,494.6L758.6,493.7L760.3,492.8L762.1,491.9L763.9,491.0L765.6,490.0L767.3,489.0L769.1,488.0L770.7,486.9L772.4,485.8L774.1,484.7L775.7,483.6L777.4,482.4L779.0,481.2L780.6,480.0L782.2,478.8L783.7,477.6L785.3,476.3L786.8,475.0L788.3,473.7L789.8,472.4L791.3,471.0L792.7,469.7L794.1,468.3L795.5,466.8L796.9,465.4L798.2,463.9L799.5,462.4L800.8,460.9L802.1,459.3L803.3,457.7L804.5,456.2L805.7,454.5L806.9,452.9L808.1,451.3L809.2,449.7L810.4,448.0L811.5,446.4L812.6,444.7L813.7,443.1L814.8,441.4L815.9,439.7L817.0,438.0L818.1,436.4L819.2,434.7L820.3,433.0L821.4,431.3L822.4,429.6L823.5,427.9L824.6,426.2L825.6,424.6L826.7,422.9L827.8,421.2L828.9,419.5L830.0,417.9L831.2,416.2L832.3,414.6L833.4,412.9L834.6,411.3L835.7,409.6L836.8,408.0L837.9,406.3L839.0,404.6L840.1,403.0L841.2,401.3L842.2,399.6L843.3,397.9L844.3,396.1L845.2,394.4L846.2,392.6L847.2,390.9L848.1,389.1L849.0,387.3L849.9,385.6L850.9,383.8L851.8,382.0L852.7,380.2L853.7,378.5L854.6,376.7L855.5,374.9L856.5,373.2L857.4,371.4L858.3,369.6L859.3,367.9L860.2,366.1L861.1,364.3L862.0,362.5L862.9,360.7L863.8,358.9L864.7,357.1L865.5,355.3L866.4,353.5L867.2,351.7L868.1,349.9L868.9,348.1L869.8,346.3L870.7,344.5L871.7,342.8L872.6,341.0L873.6,339.3L874.6,337.6L875.7,335.9L876.7,334.2L877.8,332.5L878.9,330.9L880.1,329.2L881.2,327.6L882.4,325.9L883.5,324.3L884.7,322.7L885.8,321.0L887.0,319.4L888.1,317.8L889.3,316.1L890.4,314.5L891.6,312.9L892.8,311.2L894.0,309.6L895.2,308.0L896.4,306.5L897.7,304.9L899.0,303.5L900.3,302.1L901.8,300.8L903.3,299.6L904.8,298.6L906.5,297.7L908.2,297.1L909.9,296.7L911.7,296.5L913.5,296.6L915.2,297.0L916.9,297.5L918.6,298.3L920.2,299.3L921.8,300.4L923.2,301.6L924.7,302.9L926.0,304.4L927.4,305.8L928.7,307.3L929.9,308.9L931.2,310.5L932.4,312.0L933.6,313.6L934.8,315.2L936.0,316.9L937.1,318.5L938.3,320.1L939.4,321.7L940.6,323.4L941.7,325.0L942.8,326.7L943.9,328.4L945.0,330.1L946.0,331.8L947.1,333.5L948.1,335.2L949.1,336.9L950.1,338.7L951.0,340.4L951.9,342.2L952.8,344.0L953.7,345.8L954.5,347.6L955.3,349.4L956.1,351.3L956.8,353.1L957.5,355.0L958.2,356.9L958.9,358.8L959.5,360.7L960.1,362.6L960.7,364.5L961.2,366.4L961.8,368.3L962.3,370.3L962.8,372.2L963.3,374.1L963.8,376.1L964.2,378.0L964.7,380.0L965.2,381.9L965.7,383.8L966.2,385.8L966.7,387.7L967.3,389.6L967.8,391.6L968.3,393.5L968.8,395.4L969.3,397.4L969.8,399.3L970.3,401.2L970.8,403.2L971.3,405.1L971.8,407.0L972.3,409.0L972.9,410.9L973.4,412.8L973.9,414.8L974.4,416.7L975.0,418.6L975.5,420.5L976.1,422.5L976.7,424.4L977.3,426.3L977.9,428.2L978.5,430.1L979.1,432.0L979.7,433.9L980.3,435.8L980.9,437.7L981.4,439.7L982.0,441.6L982.6,443.5L983.2,445.4L983.8,447.3L984.3,449.2L984.9,451.2L985.5,453.1L986.0,455.0L986.6,456.9L987.2,458.8L987.8,460.7L988.4,462.6L989.0,464.5L989.6,466.5L990.2,468.4L990.8,470.3L991.4,472.2L992.0,474.1L992.6,476.0L993.2,477.9L993.8,479.8L994.4,481.7L994.9,483.6L995.5,485.6L996.0,487.5L996.6,489.4L997.1,491.3L997.7,493.3L998.2,495.2L998.8,497.1L999.3,499.0L999.9,500.9L1000.5,502.9L1001.0,504.8L1001.6,506.7L1002.2,508.6L1002.8,510.5L1003.4,512.4L1004.1,514.3L1004.7,516.2L1005.4,518.1L1006.0,520.0L1006.7,521.9L1007.4,523.7L1008.1,525.6L1008.8,527.5L1009.5,529.4L1010.2,531.2L1011.0,533.1L1011.7,534.9L1012.5,536.8L1013.3,538.6L1014.0,540.5L1014.8,542.3L1015.7,544.1L1016.5,545.9L1017.4,547.7L1018.3,549.5L1019.2,551.3L1020.2,553.0L1021.3,554.7L1022.3,556.4L1023.4,558.0L1024.6,559.7L1025.7,561.3L1026.9,562.9L1028.2,564.4L1029.5,566.0L1030.8,567.5L1032.1,568.9L1033.5,570.4L1034.9,571.8L1036.4,573.2L1037.8,574.5L1039.3,575.9L1040.8,577.2L1042.4,578.4L1043.9,579.7L1045.5,580.8L1047.2,582.0L1048.8,583.1L1050.5,584.2L1052.2,585.3L1053.9,586.4L1055.6,587.4L1057.3,588.4L1059.0,589.5L1060.7,590.5L1062.4,591.6L1064.1,592.6L1065.8,593.7L1067.5,594.7L1069.2,595.8L1070.9,596.8L1072.6,597.9L1074.3,598.9L1076.0,599.9L1077.8,600.9L1079.5,601.7L1081.3,602.6L1083.2,603.3L1085.0,604.0L1086.9,604.6L1088.8,605.2L1090.7,605.7L1092.7,606.1L1094.6,606.6L1096.6,607.1L1098.5,607.5L1100.4,608.1L1102.3,608.6L1104.2,609.3L1106.1,609.9L1108.0,610.6L1109.8,611.3L1111.7,612.1L1113.5,612.8L1115.4,613.5L1117.3,614.2L1119.1,614.9L1121.0,615.6L1122.9,616.2L1124.8,616.7L1126.8,617.3L1128.7,617.8L1130.6,618.2L1132.6,618.6L1134.5,619.0L1136.5,619.4L1138.5,619.7L1140.4,620.1L1142.4,620.4L1144.4,620.7L1146.4,621.1L1148.3,621.4L1150.3,621.7L1152.3,622.0L1154.3,622.3L1156.3,622.6L1158.2,622.9L1160.2,623.2L1162.2,623.5L1164.2,623.8L1166.1,624.2L1168.1,624.5L1170.1,624.9L1172.0,625.2L1174.0,625.6L1176.0,626.0L1177.9,626.3L1179.9,626.6L1181.9,626.9L1183.9,627.2L1185.8,627.4L1187.8,627.6L1189.8,627.7L1191.8,627.9L1193.8,627.9L1195.8,628.0L1197.8,628.1L1199.8,628.1L1201.8,628.1L1203.8,628.1L1205.8,628.1L1207.8,628.2L1209.8,628.2L1211.8,628.2L1213.8,628.2L1215.8,628.2L1217.8,628.2L1219.8,628.2L1221.8,628.2L1223.8,628.1L1225.8,628.0L1227.8,627.9L1229.8,627.8L1231.8,627.6L1233.8,627.4L1235.7,627.2L1237.7,626.9L1239.7,626.6L1241.7,626.3L1243.6,626.0L1245.6,625.6L1247.5,625.1L1249.5,624.7L1251.4,624.2L1253.3,623.6L1255.2,623.0L1257.1,622.4L1258.9,621.6L1260.8,620.8L1262.5,620.0L1264.3,619.0L1265.9,618.0L1267.6,616.9L1269.1,615.7L1270.6,614.4L1272.1,613.1L1273.4,611.7L1274.8,610.2L1276.1,608.7L1277.3,607.1L1278.5,605.5L1279.6,603.9L1280.7,602.2L1281.7,600.5L1282.7,598.8L1283.6,597.0L1284.5,595.2L1285.4,593.4L1286.2,591.6L1287.1,589.8L1287.9,588.0L1288.7,586.2L1289.5,584.3L1290.2,582.5L1291.0,580.6L1291.8,578.8L1292.6,576.9L1293.3,575.1L1294.1,573.2L1294.8,571.4L1295.5,569.5L1296.2,567.6L1296.9,565.8L1297.6,563.9L1298.3,562.0L1299.0,560.1L1299.7,558.3L1300.4,556.4L1301.1,554.5L1301.8,552.6L1302.5,550.8L1303.2,548.9L1303.8,547.0L1304.5,545.1L1305.2,543.2L1305.8,541.3L1306.4,539.4L1307.0,537.5L1307.6,535.6L1308.1,533.7L1308.7,531.7L1309.2,529.8L1309.7,527.9L1310.3,526.0L1310.8,524.0L1311.3,522.1L1311.8,520.2L1312.4,518.2L1312.9,516.3L1313.4,514.4L1313.9,512.4L1314.4,510.5L1314.9,508.6L1315.3,506.6L1315.8,504.7L1316.3,502.7L1316.7,500.8L1317.2,498.8L1317.6,496.9L1318.1,494.9L1318.5,493.0L1319.0,491.0L1319.4,489.1L1319.8,487.1L1320.3,485.2L1320.7,483.2L1321.1,481.3L1321.5,479.3L1321.9,477.3L1322.3,475.4L1322.7,473.4L1323.0,471.5L1323.4,469.5L1323.8,467.5L1324.1,465.6L1324.5,463.6L1324.9,461.6L1325.3,459.7L1325.7,457.7L1326.1,455.8L1326.6,453.8L1327.0,451.9L1327.5,449.9L1328.0,448.0L1328.5,446.0L1329.0,444.1L1329.5,442.2L1330.0,440.2L1330.6,438.3L1331.2,436.4L1331.8,434.5L1332.5,432.6L1333.2,430.8L1334.0,429.0L1334.8,427.2L1335.7,425.5L1336.7,423.8L1337.8,422.2L1338.9,420.8L1340.2,419.5L1341.5,418.4L1342.9,417.5L1344.3,417.0L1345.8,416.7L1347.3,416.8L1348.7,417.3L1350.2,418.0L1351.6,419.0L1352.9,420.2L1354.2,421.5L1355.5,423.0L1356.7,424.5L1357.8,426.2L1358.9,427.8L1360.0,429.5L1361.1,431.2L1362.1,432.9L1363.1,434.6L1364.1,436.3L1365.1,438.1L1366.1,439.8L1367.2,441.5L1368.2,443.2L1369.3,444.9L1370.4,446.6L1371.5,448.2L1372.7,449.8L1373.9,451.4L1375.1,452.9L1376.4,454.3L1377.8,455.6L1379.2,456.7L1380.8,457.6L1382.4,458.3L1384.0,458.7L1385.7,458.9L1387.4,458.7L1389.1,458.3L1390.7,457.7L1392.3,456.8L1393.8,455.7L1395.3,454.5L1396.7,453.1L1398.0,451.7L1399.3,450.2L1400.6,448.7L1401.9,447.2L1403.2,445.7L1404.5,444.3L1405.9,442.9L1407.4,441.5L1408.9,440.3L1410.4,439.1L1412.1,438.1L1413.8,437.1L1415.5,436.2L1417.3,435.4L1419.2,434.7L1421.1,434.1L1423.0,433.5L1424.9,432.9L1426.8,432.4L1428.7,431.9L1430.7,431.4L1432.6,430.9L1434.5,430.4L1436.5,429.9L1438.4,429.4L1440.4,428.9L1442.3,428.5L1444.2,428.0L1446.2,427.5L1448.1,427.0L1450.1,426.5L1452.0,426.0L1453.9,425.5L1455.9,424.9L1457.8,424.4L1459.7,424.0L1461.6,423.5L1463.5,423.2L1465.4,422.9L1467.2,422.8L1469.0,422.9L1470.8,423.2L1472.5,423.7L1474.1,424.4L1475.7,425.3L1477.2,426.4L1478.6,427.6L1480.0,429.0L1481.3,430.4L1482.5,432.0L1483.7,433.6L1484.7,435.2L1485.7,436.9L1486.7,438.7L1487.6,440.4L1488.4,442.2L1489.3,444.1L1490.0,445.9L1490.8,447.7L1491.5,449.6L1492.2,451.5L1492.9,453.4L1493.5,455.3L1494.1,457.2L1494.6,459.1L1495.2,461.0L1495.7,462.9L1496.2,464.9L1496.7,466.8L1497.1,468.8L1497.6,470.7L1498.0,472.7L1498.5,474.6L1499.0,476.5L1499.4,478.5L1499.9,480.4L1500.4,482.4L1500.9,484.3L1501.4,486.2L1501.9,488.2L1502.5,490.1L1503.0,492.0L1503.5,494.0L1504.0,495.9L1504.6,497.8L1505.1,499.8L1505.6,501.7L1506.1,503.6L1506.6,505.6L1507.1,507.5L1507.6,509.4L1508.1,511.4L1508.6,513.3L1509.1,515.2L1509.6,517.2L1510.1,519.1L1510.6,521.1L1511.1,523.0L1511.6,524.9L1512.0,526.9L1512.5,528.8L1513.0,530.8L1513.5,532.7L1514.0,534.6L1514.5,536.6L1515.0,538.5L1515.6,540.4L1516.1,542.4L1516.7,544.3L1517.3,546.2L1517.8,548.1L1518.4,550.0L1519.0,551.9L1519.6,553.8L1520.1,555.8L1520.7,557.7L1521.3,559.6L1521.8,561.5L1522.3,563.5L1522.9,565.4L1523.4,567.3L1524.0,569.2L1524.5,571.2L1525.1,573.1L1525.7,575.0L1526.2,576.9L1526.8,578.8L1527.4,580.7L1528.1,582.6L1528.7,584.5L1529.4,586.4L1530.1,588.3L1530.8,590.1L1531.5,592.0L1532.3,593.8L1533.1,595.7L1533.9,597.5L1534.8,599.3L1535.7,601.0L1536.6,602.8L1537.6,604.5L1538.7,606.2L1539.8,607.8L1541.0,609.4L1542.2,611.0L1543.5,612.6L1544.8,614.1L1546.1,615.6L1547.5,617.0L1548.8,618.4L1550.3,619.8L1551.7,621.2L1553.2,622.5L1554.8,623.7L1556.4,624.8L1558.0,625.9L1559.8,626.8L1561.5,627.7L1563.3,628.5L1565.2,629.1L1567.0,629.7L1568.9,630.1L1570.9,630.4L1572.8,630.6L1574.8,630.7L1576.7,630.7L1578.7,630.6L1580.7,630.4L1582.6,630.1L1584.6,629.7L1586.6,629.3L1588.5,628.9L1590.4,628.4L1592.4,627.9L1594.3,627.3L1596.2,626.7L1598.0,626.1L1599.9,625.4L1601.7,624.6L1603.4,623.8L1605.2,622.9L1606.9,622.0L1608.6,621.0L1610.3,620.0L1612.0,619.0L1613.7,618.0L1615.4,616.9L1617.1,615.9L1618.8,614.9L1620.5,613.8L1622.2,612.8L1623.9,611.7L1625.6,610.7L1627.3,609.6L1628.9,608.4L1630.6,607.3L1632.2,606.1L1633.8,604.9L1635.4,603.7L1636.9,602.4L1638.5,601.2L1640.0,599.9L1641.5,598.5L1642.9,597.2L1644.4,595.8L1645.8,594.4L1647.2,592.9L1648.5,591.5L1649.8,590.0L1651.1,588.5L1652.4,586.9L1653.7,585.4L1654.9,583.8L1656.1,582.2L1657.3,580.6L1658.4,579.0L1659.6,577.3L1660.7,575.7L1661.9,574.0L1663.0,572.4L1664.1,570.7L1665.1,569.0L1666.1,567.3L1667.1,565.5L1668.0,563.8L1668.9,562.0L1669.6,560.2L1670.4,558.3L1671.0,556.5L1671.6,554.6L1672.2,552.6L1672.7,550.7L1673.2,548.8L1673.8,546.9L1674.3,545.0L1674.8,543.0L1675.4,541.1L1676.1,539.2L1676.7,537.4L1677.5,535.5L1678.2,533.7L1679.0,531.8L1679.8,530.0L1680.6,528.2L1681.5,526.4L1682.3,524.6L1683.2,522.7L1684.0,520.9L1684.8,519.1L1685.6,517.3L1686.4,515.4L1687.2,513.6L1687.9,511.7L1688.6,509.9L1689.3,508.0L1690.0,506.1L1690.6,504.2L1691.3,502.3L1691.9,500.4L1692.5,498.5L1693.1,496.6L1693.7,494.7L1694.3,492.8L1694.9,490.9L1695.4,488.9L1696.0,487.0L1696.6,485.1L1697.1,483.2L1697.7,481.3L1698.2,479.3L1698.8,477.4L1699.3,475.5L1699.8,473.6L1700.4,471.6L1700.9,469.7L1701.4,467.8L1701.9,465.8L1702.4,463.9L1703.0,462.0L1703.5,460.0L1704.0,458.1L1704.5,456.2L1705.0,454.2L1705.4,452.3L1705.9,450.3L1706.4,448.4L1706.9,446.5L1707.4,444.5L1707.9,442.6L1708.3,440.6L1708.8,438.7L1709.3,436.8L1709.8,434.8L1710.3,432.9L1710.8,430.9L1711.2,429.0L1711.7,427.0L1712.2,425.1L1712.7,423.2L1713.2,421.2L1713.7,419.3L1714.1,417.3L1714.6,415.4L1715.1,413.5L1715.6,411.5L1716.0,409.6L1716.5,407.6L1716.9,405.7L1717.4,403.7L1717.8,401.8L1718.2,399.8L1718.6,397.8L1719.1,395.9L1719.5,393.9L1719.9,392.0L1720.3,390.0L1720.7,388.1L1721.2,386.1L1721.6,384.2L1722.0,382.2L1722.5,380.3L1722.9,378.3L1723.4,376.4L1723.8,374.4L1724.3,372.5L1724.8,370.5L1725.2,368.6L1725.7,366.6L1726.1,364.7L1726.6,362.7L1727.0,360.8L1727.5,358.8L1727.9,356.9L1728.3,354.9L1728.8,353.0L1729.2,351.0L1729.6,349.1L1730.1,347.1L1730.5,345.2L1730.9,343.2L1731.3,341.2L1731.7,339.3L1732.1,337.3L1732.5,335.4L1732.9,333.4L1733.3,331.4L1733.7,329.5L1734.1,327.5L1734.5,325.6L1734.8,323.6L1735.2,321.6L1735.6,319.7L1736.0,317.7L1736.3,315.7L1736.7,313.8L1737.0,311.8L1737.4,309.8L1737.8,307.8L1738.1,305.9L1738.5,303.9L1738.8,301.9L1739.1,300.0L1739.5,298.0L1739.8,296.0L1740.2,294.1L1740.5,292.1L1740.8,290.1L1741.2,288.1L1741.5,286.2L1741.9,284.2L1742.2,282.2L1742.5,280.3L1742.9,278.3L1743.2,276.3L1743.6,274.3L1743.9,272.4L1744.3,270.4L1744.6,268.4L1745.0,266.5L1745.3,264.5L1745.7,262.5L1746.0,260.6L1746.4,258.6L1746.7,256.6L1747.1,254.6L1747.5,252.7L1747.8,250.7L1748.2,248.8L1748.6,246.8L1748.9,244.8L1749.3,242.9L1749.7,240.9L1750.1,238.9L1750.5,237.0L1750.9,235.0L1751.3,233.1L1751.7,231.1L1752.1,229.1L1752.5,227.2L1752.9,225.2L1753.2,223.2L1753.6,221.3L1754.0,219.3L1754.4,217.3L1754.7,215.4L1755.1,213.4L1755.4,211.4L1755.8,209.5L1756.1,207.5L1756.5,205.5L1756.8,203.6L1757.1,201.6L1757.5,199.6L1757.8,197.6L1758.2,195.7L1758.5,193.7L1758.9,191.7L1759.2,189.8L1759.6,187.8L1760.0,185.8L1760.4,183.9L1760.8,181.9L1761.2,180.0L1761.6,178.0L1762.0,176.0L1762.4,174.1L1762.9,172.1L1763.3,170.2L1763.7,168.2L1764.2,166.3L1764.6,164.3L1765.1,162.4L1765.5,160.4L1766.0,158.5L1766.4,156.5L1766.9,154.6L1767.3,152.6L1767.8,150.7L1768.2,148.7L1768.6,146.8L1769.1,144.8L1769.5,142.9L1769.9,140.9L1770.4,139.0L1770.9,137.0L1771.3,135.1L1771.8,133.1L1772.3,131.2L1772.8,129.3L1773.4,127.4L1774.0,125.4L1774.6,123.5L1775.2,121.6L1775.8,119.7L1776.5,117.9L1777.1,116.0L1777.8,114.1L1778.5,112.2L1779.2,110.3L1780.0,108.5L1780.7,106.6L1781.4,104.8L1782.2,102.9L1782.9,101.1L1783.7,99.2L1784.5,97.4L1785.4,95.6L1786.3,93.8L1787.2,92.1L1788.2,90.5L1789.3,88.9L1790.5,87.5L1791.7,86.3L1793.1,85.3L1794.5,84.6L1796.0,84.3L1797.5,84.2L1799.0,84.5L1800.5,85.1L1802.0,86.0L1803.4,87.1L1804.7,88.3L1806.0,89.8L1807.2,91.3L1808.3,92.9L1809.4,94.6L1810.3,96.3L1811.2,98.0L1812.1,99.8L1812.9,101.6L1813.7,103.5L1814.4,105.3L1815.1,107.2L1815.7,109.1L1816.4,111.0L1817.0,112.9L1817.6,114.8L1818.2,116.7L1818.8,118.6L1819.4,120.5L1819.9,122.5L1820.5,124.4L1821.0,126.3L1821.6,128.2L1822.1,130.2L1822.6,132.1L1823.1,134.0L1823.6,136.0L1824.1,137.9L1824.6,139.9L1825.1,141.8L1825.5,143.7L1826.0,145.7L1826.5,147.6L1827.0,149.6L1827.4,151.5L1827.9,153.5L1828.3,155.4L1828.8,157.4L1829.2,159.3L1829.7,161.3L1830.1,163.2L1830.6,165.2L1831.0,167.1L1831.4,169.1L1831.8,171.0L1832.3,173.0L1832.7,174.9L1833.1,176.9L1833.5,178.9L1833.9,180.8L1834.3,182.8L1834.7,184.7L1835.1,186.7L1835.5,188.7L1835.9,190.6L1836.3,192.6L1836.6,194.5L1837.0,196.5L1837.4,198.5L1837.7,200.4L1838.1,202.4L1838.4,204.4L1838.7,206.4L1839.1,208.3L1839.4,210.3L1839.7,212.3L1840.0,214.3L1840.3,216.2L1840.6,218.2L1840.9,220.2L1841.1,222.2L1841.4,224.2L1841.7,226.1L1842.0,228.1L1842.2,230.1L1842.5,232.1L1842.8,234.1L1843.0,236.1L1843.3,238.0L1843.6,240.0L1843.8,242.0L1844.1,244.0L1844.3,246.0L1844.5,248.0L1844.8,250.0L1845.0,251.9L1845.3,253.9L1845.5,255.9L1845.7,257.9L1846.0,259.9L1846.2,261.9L1846.5,263.9L1846.7,265.8L1846.9,267.8L1847.2,269.8L1847.4,271.8L1847.7,273.8L1847.9,275.8L1848.2,277.8L1848.4,279.7L1848.7,281.7L1848.9,283.7L1849.2,285.7L1849.4,287.7L1849.7,289.7L1849.9,291.6L1850.2,293.6L1850.4,295.6L1850.7,297.6L1850.9,299.6L1851.2,301.6L1851.5,303.6L1851.7,305.5L1852.0,307.5L1852.2,309.5L1852.5,311.5L1852.8,313.5L1853.0,315.5L1853.3,317.4L1853.5,319.4L1853.8,321.4L1854.0,323.4L1854.2,325.4L1854.4,327.4L1854.6,329.4L1854.9,331.3L1855.0,333.3L1855.2,335.3L1855.4,337.3L1855.6,339.3L1855.7,341.3L1855.9,343.3L1856.0,345.3L1856.2,347.3L1856.3,349.3L1856.5,351.3L1856.6,353.3L1856.8,355.3L1856.9,357.3L1857.1,359.3L1857.2,361.3L1857.4,363.3L1857.5,365.2L1857.7,367.2L1857.9,369.2L1858.1,371.2L1858.3,373.2L1858.5,375.2L1858.7,377.2L1859.0,379.2L1859.2,381.2L1859.4,383.1L1859.7,385.1L1859.9,387.1L1860.2,389.1L1860.4,391.1L1860.7,393.1L1860.9,395.1L1861.1,397.0L1861.4,399.0L1861.6,401.0L1861.8,403.0L1862.0,405.0L1862.2,407.0L1862.4,409.0L1862.6,411.0L1862.8,413.0L1863.0,415.0L1863.2,416.9L1863.4,418.9L1863.6,420.9L1863.8,422.9L1864.0,424.9L1864.2,426.9L1864.4,428.9L1864.6,430.9L1864.8,432.9L1865.0,434.9L1865.2,436.9L1865.3,438.8L1865.5,440.8L1865.7,442.8L1865.9,444.8L1866.1,446.8L1866.3,448.8L1866.5,450.8L1866.7,452.8L1866.9,454.8L1867.1,456.8L1867.3,458.8L1867.5,460.7L1867.7,462.7L1867.9,464.7L1868.1,466.7L1868.4,468.7L1868.6,470.7L1868.8,472.7L1869.0,474.7L1869.3,476.6L1869.5,478.6L1869.8,480.6L1870.0,482.6L1870.2,484.6L1870.5,486.6L1870.7,488.6L1871.0,490.5L1871.3,492.5L1871.5,494.5L1871.8,496.5L1872.0,498.5L1872.3,500.5L1872.5,502.5L1872.8,504.4L1873.0,506.4L1873.3,508.4L1873.5,510.4L1873.8,512.4L1874.0,514.4L1874.3,516.3L1874.5,518.3L1874.7,520.3L1875.0,522.3L1875.2,524.3L1875.5,526.3L1875.7,528.3L1876.0,530.2L1876.2,532.2L1876.5,534.2L1876.7,536.2L1877.0,538.2L1877.2,540.2L1877.5,542.2L1877.7,544.1L1878.0,546.1L1878.3,548.1L1878.5,550.1L1878.8,552.1L1879.1,554.0L1879.4,556.0L1879.7,558.0L1880.0,560.0L1880.3,562.0L1880.6,563.9L1880.9,565.9L1881.2,567.9L1881.5,569.9L1881.7,571.9L1882.0,573.8L1882.3,575.8L1882.6,577.8L1882.9,579.8L1883.1,581.8L1883.4,583.7L1883.7,585.7L1884.0,587.7L1884.2,589.7L1884.5,591.7L1884.8,593.6L1885.1,595.6L1885.4,597.6L1885.7,599.6L1886.1,601.5L1886.4,603.5L1886.8,605.5L1887.2,607.4L1887.6,609.4L1887.9,611.4L1888.3,613.3L1888.7,615.3L1889.0,617.3L1889.4,619.2L1889.7,621.2L1890.0,623.2L1890.3,625.2L1890.6,627.1L1890.9,629.1L1891.2,631.1L1891.6,633.1L1891.9,635.0L1892.3,637.0L1892.6,639.0L1893.0,640.9L1893.4,642.9L1893.9,644.8L1894.3,646.8L1894.8,648.7L1895.3,650.7L1895.8,652.6L1896.3,654.5L1896.9,656.4L1897.5,658.4L1898.0,660.3L1898.7,662.2L1899.3,664.1L1900.0,665.9L1900.6,667.8L1901.3,669.7L1902.0,671.6L1902.8,673.4L1903.5,675.3L1904.3,677.1L1905.1,679.0L1905.9,680.8L1906.7,682.6L1907.5,684.4L1908.4,686.2L1909.3,688.0L1910.2,689.8L1911.0,691.6L1911.9,693.4L1912.9,695.2L1913.8,697.0L1914.7,698.7L1915.6,700.5L1916.6,702.3L1917.5,704.0L1918.5,705.8L1919.5,707.5L1920.5,709.3L1921.5,711.0L1922.6,712.6L1923.7,714.3L1924.9,715.9L1926.1,717.5L1927.3,719.0L1928.6,720.6L1929.9,722.0L1931.3,723.5L1932.7,724.9L1934.2,726.2L1935.7,727.5L1937.2,728.8L1938.8,730.0L1940.4,731.2L1942.0,732.3L1943.7,733.4L1945.4,734.4L1947.2,735.4L1948.9,736.3L1950.7,737.2L1952.5,738.0L1954.3,738.9L1956.2,739.6L1958.0,740.4L1959.9,741.1L1961.8,741.8L1963.7,742.4L1965.6,743.0L1967.5,743.6L1969.4,744.1L1971.3,744.5L1973.3,744.9L1975.3,745.3L1977.2,745.6L1979.2,745.9L1981.2,746.2L1983.2,746.4L1985.2,746.6L1987.1,746.7L1989.1,746.8L1991.1,747.0L1993.1,747.1L1995.1,747.3L1997.1,747.5L1999.0,747.7L2001.0,748.1L2002.9,748.4L2004.9,748.9L2006.8,749.3L2008.7,749.8L2010.6,750.3L2012.6,750.7L2014.5,751.1L2016.5,751.5L2018.5,751.8L2020.4,752.0L2022.4,752.2L2024.4,752.4L2026.4,752.5L2028.4,752.6L2030.4,752.7L2032.4,752.8L2034.4,752.8L2036.4,752.9L2038.4,752.9L2040.4,752.9L2042.4,752.9L2044.4,752.9L2046.4,752.9L2048.4,752.9L2050.4,753.0L2052.4,753.0L2054.4,753.1L2056.4,753.2L2058.4,753.3L2060.4,753.4L2062.4,753.5L2064.4,753.6L2066.4,753.7L2068.4,753.8L2070.4,753.9L2072.4,754.0L2074.4,754.1L2076.4,754.1L2078.4,754.2L2080.4,754.2L2082.4,754.2L2084.3,754.2L2086.3,754.1L2088.3,754.0L2090.3,753.9L2092.3,753.8L2094.3,753.6L2096.3,753.5L2098.3,753.3L2100.3,753.1L2102.3,753.0L2104.2,752.9L2106.2,752.9L2108.2,752.9L2110.2,753.0L2112.1,753.2L2114.1,753.4L2116.1,753.6L2118.1,753.8L2120.1,754.0L2122.0,754.2L2124.0,754.4L2126.0,754.6L2128.0,754.7L2130.0,754.7L2132.0,754.8L2134.0,754.8L2136.0,754.9L2138.0,754.9L2140.0,754.9L2142.0,754.9L2144.0,754.9L2146.0,754.9L2148.0,754.9L2150.0,754.9L2152.0,754.9L2154.0,754.9L2156.0,754.9L2158.0,754.9L2160.0,754.8L2162.0,754.8L2164.0,754.8L2166.0,754.7L2168.0,754.7L2170.0,754.6L2171.9,754.5L2173.8,754.5L2175.6,754.4L2177.3,754.3L2178.8,754.3L2180.1,754.2L2181.2,754.2" fill="none" stroke="#0062a1" stroke-width="7" stroke-linejoin="round" stroke-linecap="round"/>
<path d="M192.5,1806.3C196.3,1806.2 209.7,1806.7 215.1,1805.7C220.5,1804.8 220.8,1801.5 225.1,1800.6C229.4,1799.7 236.8,1801.0 241.2,1800.2C245.5,1799.4 248.2,1797.0 251.2,1795.6C254.2,1794.2 256.2,1792.7 259.2,1791.6C262.2,1790.5 265.6,1790.2 269.3,1789.0C273.0,1787.8 277.6,1785.5 281.3,1784.6C285.0,1783.7 288.3,1784.5 291.3,1783.6C294.3,1782.7 296.4,1781.5 299.4,1779.2C302.4,1777.0 305.4,1773.7 309.4,1770.1C313.4,1766.5 319.4,1760.6 323.4,1757.5C327.4,1754.4 330.1,1753.9 333.5,1751.5C336.9,1749.1 340.5,1746.2 343.5,1742.9C346.5,1739.6 349.1,1735.5 351.5,1731.4C353.9,1727.3 355.6,1722.6 357.6,1718.4C359.6,1714.2 361.6,1709.5 363.6,1706.3C365.6,1703.1 367.3,1702.0 369.6,1699.3C371.9,1696.6 374.2,1693.8 377.6,1690.3C381.0,1686.8 386.0,1681.1 389.7,1678.3C393.4,1675.5 395.7,1674.6 399.7,1673.2C403.7,1671.8 410.0,1671.1 413.7,1669.8C417.4,1668.5 418.8,1668.0 421.8,1665.2C424.8,1662.4 428.5,1656.9 431.8,1653.2C435.1,1649.5 438.8,1645.4 441.8,1643.1C444.8,1640.8 447.1,1639.1 449.8,1639.1C452.5,1639.1 454.5,1640.8 457.9,1643.1C461.2,1645.4 466.6,1651.0 469.9,1653.2C473.2,1655.4 475.2,1655.9 477.9,1656.2C480.6,1656.5 483.1,1656.5 486.0,1655.2C488.9,1653.9 492.6,1651.2 495.0,1648.2C497.4,1645.2 498.6,1642.2 500.4,1637.0C502.2,1631.8 504.0,1623.0 505.6,1616.7C507.2,1610.4 508.6,1606.9 510.0,1599.4C511.4,1591.9 512.9,1580.8 514.3,1571.6C515.7,1562.3 517.3,1553.7 518.6,1543.9C519.9,1534.1 520.8,1523.0 522.1,1512.6C523.4,1502.2 525.0,1491.5 526.4,1481.4C527.8,1471.3 529.5,1462.0 530.8,1451.9C532.1,1441.8 533.1,1430.0 534.2,1420.7C535.4,1411.4 536.5,1404.1 537.7,1396.0C538.9,1387.9 540.2,1379.0 541.2,1371.9C542.2,1364.8 542.9,1359.6 543.7,1353.5C544.6,1347.4 545.3,1341.2 546.3,1335.1C547.3,1329.0 548.8,1321.3 549.8,1316.7C550.8,1312.1 551.3,1309.8 552.3,1307.6C553.3,1305.4 554.6,1303.6 555.9,1303.6C557.2,1303.6 558.9,1305.4 560.2,1307.6C561.5,1309.8 562.8,1312.1 563.7,1316.7C564.6,1321.3 565.0,1329.0 565.7,1335.1C566.4,1341.2 566.9,1347.4 567.7,1353.5C568.5,1359.6 569.5,1365.8 570.4,1371.9C571.2,1378.0 571.9,1382.1 572.8,1390.2C573.7,1398.3 574.8,1409.8 575.9,1420.7C577.0,1431.6 578.3,1443.8 579.3,1455.4C580.3,1467.0 581.0,1478.5 581.9,1490.1C582.8,1501.7 583.3,1513.2 584.5,1524.8C585.7,1536.4 587.4,1547.9 588.9,1559.5C590.4,1571.1 591.6,1582.6 593.2,1594.2C594.8,1605.8 596.5,1617.3 598.4,1628.9C600.3,1640.5 602.6,1654.1 604.5,1663.6C606.4,1673.1 608.0,1678.5 609.6,1686.0C611.2,1693.5 612.4,1701.4 613.9,1708.3C615.4,1715.2 616.9,1721.2 618.6,1727.2C620.3,1733.2 621.8,1738.9 624.3,1744.2C626.8,1749.5 630.7,1752.4 633.7,1759.3C636.7,1766.2 639.5,1777.5 642.2,1785.7C644.9,1793.9 647.5,1801.2 649.7,1808.4C651.9,1815.6 652.9,1821.5 655.4,1829.1C657.9,1836.6 661.8,1846.5 664.9,1853.7C668.0,1861.0 671.5,1866.0 674.3,1872.6C677.1,1879.2 679.3,1887.2 681.8,1893.3C684.3,1899.4 686.2,1905.0 689.4,1909.4C692.5,1913.8 697.2,1916.5 700.7,1919.8C704.2,1923.1 706.4,1926.4 710.2,1929.2C714.0,1932.0 719.6,1933.9 723.4,1936.7C727.2,1939.5 729.3,1943.4 732.8,1946.2C736.2,1949.0 740.3,1950.9 744.1,1953.7C747.9,1956.5 751.4,1959.7 755.5,1963.2C759.6,1966.7 764.3,1971.5 768.7,1974.5C773.1,1977.5 777.5,1979.2 781.9,1981.1C786.3,1983.0 790.3,1982.4 795.1,1985.8C799.9,1989.2 805.8,1996.8 810.5,2001.6C815.2,2006.4 819.2,2010.7 823.2,2014.4C827.2,2018.1 830.9,2020.1 834.8,2023.7C838.7,2027.3 842.6,2032.0 846.5,2035.9C850.4,2039.8 854.7,2044.5 858.1,2046.9C861.5,2049.3 863.4,2049.3 866.8,2050.1C870.2,2050.9 875.0,2051.1 878.4,2051.8C881.8,2052.5 884.2,2053.5 887.1,2054.5C890.0,2055.5 893.3,2057.5 895.8,2057.9C898.3,2058.3 901.0,2057.0 902.0,2056.8" fill="none" stroke="#0062a1" stroke-width="7" stroke-linejoin="round" stroke-linecap="round"/>
<rect x="191.8" y="25.0" width="1994.2" height="783.0" fill="none" stroke="#000" stroke-width="6" stroke-linejoin="miter"/>
<rect x="192.0" y="1094.2" width="711.6" height="997.0" fill="none" stroke="#000" stroke-width="3.5" stroke-linejoin="miter"/>
<rect x="1188.5" y="1093.6" width="996.9" height="1000.4" fill="none" stroke="#000" stroke-width="4.5" stroke-linejoin="miter"/>
<line x1="2186.0" y1="808.0" x2="2186.0" y2="836.2" stroke="#000" stroke-width="6" stroke-linecap="butt"/>
<text x="2186.0" y="909.6" font-size="72" text-anchor="middle" fill="#000" style="font-family:'Liberation Serif','Times New Roman',serif" >925</text>
<line x1="1964.4" y1="808.0" x2="1964.4" y2="836.2" stroke="#000" stroke-width="6" stroke-linecap="butt"/>
<text x="1964.4" y="909.6" font-size="72" text-anchor="middle" fill="#000" style="font-family:'Liberation Serif','Times New Roman',serif" >930</text>
<line x1="1742.8" y1="808.0" x2="1742.8" y2="836.2" stroke="#000" stroke-width="6" stroke-linecap="butt"/>
<text x="1742.8" y="909.6" font-size="72" text-anchor="middle" fill="#000" style="font-family:'Liberation Serif','Times New Roman',serif" >935</text>
<line x1="1521.3" y1="808.0" x2="1521.3" y2="836.2" stroke="#000" stroke-width="6" stroke-linecap="butt"/>
<text x="1521.3" y="909.6" font-size="72" text-anchor="middle" fill="#000" style="font-family:'Liberation Serif','Times New Roman',serif" >940</text>
<line x1="1299.7" y1="808.0" x2="1299.7" y2="836.2" stroke="#000" stroke-width="6" stroke-linecap="butt"/>
<text x="1299.7" y="909.6" font-size="72" text-anchor="middle" fill="#000" style="font-family:'Liberation Serif','Times New Roman',serif" >945</text>
<line x1="1078.1" y1="808.0" x2="1078.1" y2="836.2" stroke="#000" stroke-width="6" stroke-linecap="butt"/>
<text x="1078.1" y="909.6" font-size="72" text-anchor="middle" fill="#000" style="font-family:'Liberation Serif','Times New Roman',serif" >950</text>
<line x1="856.5" y1="808.0" x2="856.5" y2="836.2" stroke="#000" stroke-width="6" stroke-linecap="butt"/>
<text x="856.5" y="909.6" font-size="72" text-anchor="middle" fill="#000" style="font-family:'Liberation Serif','Times New Roman',serif" >955</text>
<line x1="635.0" y1="808.0" x2="635.0" y2="836.2" stroke="#000" stroke-width="6" stroke-linecap="butt"/>
<text x="635.0" y="909.6" font-size="72" text-anchor="middle" fill="#000" style="font-family:'Liberation Serif','Times New Roman',serif" >960</text>
<line x1="413.4" y1="808.0" x2="413.4" y2="836.2" stroke="#000" stroke-width="6" stroke-linecap="butt"/>
<text x="413.4" y="909.6" font-size="72" text-anchor="middle" fill="#000" style="font-family:'Liberation Serif','Times New Roman',serif" >965</text>
<line x1="191.8" y1="808.0" x2="191.8" y2="836.2" stroke="#000" stroke-width="6" stroke-linecap="butt"/>
<text x="191.8" y="909.6" font-size="72" text-anchor="middle" fill="#000" style="font-family:'Liberation Serif','Times New Roman',serif" >970</text>
<line x1="302.6" y1="808.0" x2="302.6" y2="822.0" stroke="#000" stroke-width="6" stroke-linecap="butt"/>
<line x1="524.2" y1="808.0" x2="524.2" y2="822.0" stroke="#000" stroke-width="6" stroke-linecap="butt"/>
<line x1="745.7" y1="808.0" x2="745.7" y2="822.0" stroke="#000" stroke-width="6" stroke-linecap="butt"/>
<line x1="967.3" y1="808.0" x2="967.3" y2="822.0" stroke="#000" stroke-width="6" stroke-linecap="butt"/>
<line x1="1188.9" y1="808.0" x2="1188.9" y2="822.0" stroke="#000" stroke-width="6" stroke-linecap="butt"/>
<line x1="1410.5" y1="808.0" x2="1410.5" y2="822.0" stroke="#000" stroke-width="6" stroke-linecap="butt"/>
<line x1="1632.1" y1="808.0" x2="1632.1" y2="822.0" stroke="#000" stroke-width="6" stroke-linecap="butt"/>
<line x1="1853.6" y1="808.0" x2="1853.6" y2="822.0" stroke="#000" stroke-width="6" stroke-linecap="butt"/>
<line x1="2075.2" y1="808.0" x2="2075.2" y2="822.0" stroke="#000" stroke-width="6" stroke-linecap="butt"/>
<line x1="191.8" y1="167.6" x2="204.4" y2="167.6" stroke="#000" stroke-width="6" stroke-linecap="butt"/>
<line x1="191.8" y1="309.9" x2="218.8" y2="309.9" stroke="#000" stroke-width="6" stroke-linecap="butt"/>
<line x1="191.8" y1="452.2" x2="204.4" y2="452.2" stroke="#000" stroke-width="6" stroke-linecap="butt"/>
<line x1="191.8" y1="594.5" x2="218.8" y2="594.5" stroke="#000" stroke-width="6" stroke-linecap="butt"/>
<line x1="191.8" y1="736.8" x2="204.4" y2="736.8" stroke="#000" stroke-width="6" stroke-linecap="butt"/>
<text x="889.9" y="1012.0" font-size="72" text-anchor="start" fill="#000" style="font-family:'Liberation Serif','Times New Roman',serif" >Binding energy (eV)</text>
<text x="0.0" y="0.0" font-size="72" text-anchor="start" fill="#000" style="font-family:'Liberation Serif','Times New Roman',serif" transform="translate(128.3,627.6) rotate(-90)">Intensity (a.u.)</text>
<text x="15.8" y="111.5" font-size="108.7" text-anchor="start" fill="#000" style="font-family:'Liberation Serif','Times New Roman',serif" >(a)</text>
<text x="1927.7" y="122.5" font-size="91" text-anchor="start" fill="#000" style="font-family:'Liberation Serif','Times New Roman',serif" >Cu 2p</text>
<text x="1440.2" y="186.9" font-size="91" text-anchor="start" fill="#000" style="font-family:'Liberation Serif','Times New Roman',serif" >Cu 2p</text>
<text x="1656.0" y="210.5" font-size="60" text-anchor="start" fill="#000" style="font-family:'Liberation Serif','Times New Roman',serif" >3/2</text>
<text x="696.9" y="239.4" font-size="91" text-anchor="start" fill="#000" style="font-family:'Liberation Serif','Times New Roman',serif" >Cu 2p</text>
<text x="915.4" y="263.4" font-size="60" text-anchor="start" fill="#000" style="font-family:'Liberation Serif','Times New Roman',serif" >1/2</text>
<line x1="192.0" y1="2091.2" x2="192.0" y2="2109.7" stroke="#000" stroke-width="3.5" stroke-linecap="butt"/>
<text x="192.0" y="2188.2" font-size="72" text-anchor="middle" fill="#000" style="font-family:'Liberation Serif','Times New Roman',serif" >905</text>
<line x1="334.3" y1="2091.2" x2="334.3" y2="2109.7" stroke="#000" stroke-width="3.5" stroke-linecap="butt"/>
<text x="334.3" y="2188.2" font-size="72" text-anchor="middle" fill="#000" style="font-family:'Liberation Serif','Times New Roman',serif" >910</text>
<line x1="476.6" y1="2091.2" x2="476.6" y2="2109.7" stroke="#000" stroke-width="3.5" stroke-linecap="butt"/>
<text x="476.6" y="2188.2" font-size="72" text-anchor="middle" fill="#000" style="font-family:'Liberation Serif','Times New Roman',serif" >915</text>
<line x1="619.0" y1="2091.2" x2="619.0" y2="2109.7" stroke="#000" stroke-width="3.5" stroke-linecap="butt"/>
<text x="619.0" y="2188.2" font-size="72" text-anchor="middle" fill="#000" style="font-family:'Liberation Serif','Times New Roman',serif" >920</text>
<line x1="761.3" y1="2091.2" x2="761.3" y2="2109.7" stroke="#000" stroke-width="3.5" stroke-linecap="butt"/>
<text x="761.3" y="2188.2" font-size="72" text-anchor="middle" fill="#000" style="font-family:'Liberation Serif','Times New Roman',serif" >925</text>
<line x1="903.6" y1="2091.2" x2="903.6" y2="2109.7" stroke="#000" stroke-width="3.5" stroke-linecap="butt"/>
<text x="903.6" y="2188.2" font-size="72" text-anchor="middle" fill="#000" style="font-family:'Liberation Serif','Times New Roman',serif" >930</text>
<line x1="263.2" y1="2091.2" x2="263.2" y2="2100.4" stroke="#000" stroke-width="3.5" stroke-linecap="butt"/>
<line x1="405.5" y1="2091.2" x2="405.5" y2="2100.4" stroke="#000" stroke-width="3.5" stroke-linecap="butt"/>
<line x1="547.8" y1="2091.2" x2="547.8" y2="2100.4" stroke="#000" stroke-width="3.5" stroke-linecap="butt"/>
<line x1="690.1" y1="2091.2" x2="690.1" y2="2100.4" stroke="#000" stroke-width="3.5" stroke-linecap="butt"/>
<line x1="832.4" y1="2091.2" x2="832.4" y2="2100.4" stroke="#000" stroke-width="3.5" stroke-linecap="butt"/>
<line x1="192.0" y1="1193.3" x2="200.4" y2="1193.3" stroke="#000" stroke-width="3.5" stroke-linecap="butt"/>
<line x1="192.0" y1="1293.0" x2="210.2" y2="1293.0" stroke="#000" stroke-width="3.5" stroke-linecap="butt"/>
<line x1="192.0" y1="1392.7" x2="200.4" y2="1392.7" stroke="#000" stroke-width="3.5" stroke-linecap="butt"/>
<line x1="192.0" y1="1492.4" x2="210.2" y2="1492.4" stroke="#000" stroke-width="3.5" stroke-linecap="butt"/>
<line x1="192.0" y1="1592.1" x2="200.4" y2="1592.1" stroke="#000" stroke-width="3.5" stroke-linecap="butt"/>
<line x1="192.0" y1="1691.8" x2="210.2" y2="1691.8" stroke="#000" stroke-width="3.5" stroke-linecap="butt"/>
<line x1="192.0" y1="1791.5" x2="200.4" y2="1791.5" stroke="#000" stroke-width="3.5" stroke-linecap="butt"/>
<line x1="192.0" y1="1891.2" x2="210.2" y2="1891.2" stroke="#000" stroke-width="3.5" stroke-linecap="butt"/>
<line x1="192.0" y1="1990.9" x2="200.4" y2="1990.9" stroke="#000" stroke-width="3.5" stroke-linecap="butt"/>
<text x="258.6" y="2295.7" font-size="72" text-anchor="start" fill="#000" style="font-family:'Liberation Serif','Times New Roman',serif" >Kinetic energy (eV)</text>
<text x="0.0" y="0.0" font-size="72" text-anchor="start" fill="#000" style="font-family:'Liberation Serif','Times New Roman',serif" transform="translate(135.0,1782.2) rotate(-90)">Intensity (a.u.)</text>
<text x="6.8" y="1196.5" font-size="108.7" text-anchor="start" fill="#000" style="font-family:'Liberation Serif','Times New Roman',serif" >(b)</text>
<text x="539.0" y="1205.8" font-size="87" text-anchor="start" fill="#000" style="font-family:'Liberation Serif','Times New Roman',serif" >Cu LMM</text>
<line x1="2185.4" y1="2094.0" x2="2185.4" y2="2115.5" stroke="#000" stroke-width="4.5" stroke-linecap="butt"/>
<text x="2185.4" y="2189.5" font-size="72" text-anchor="middle" fill="#000" style="font-family:'Liberation Serif','Times New Roman',serif" >526</text>
<line x1="1986.0" y1="2094.0" x2="1986.0" y2="2115.5" stroke="#000" stroke-width="4.5" stroke-linecap="butt"/>
<text x="1986.0" y="2189.5" font-size="72" text-anchor="middle" fill="#000" style="font-family:'Liberation Serif','Times New Roman',serif" >528</text>
<line x1="1786.6" y1="2094.0" x2="1786.6" y2="2115.5" stroke="#000" stroke-width="4.5" stroke-linecap="butt"/>
<text x="1786.6" y="2189.5" font-size="72" text-anchor="middle" fill="#000" style="font-family:'Liberation Serif','Times New Roman',serif" >530</text>
<line x1="1587.3" y1="2094.0" x2="1587.3" y2="2115.5" stroke="#000" stroke-width="4.5" stroke-linecap="butt"/>
<text x="1587.3" y="2189.5" font-size="72" text-anchor="middle" fill="#000" style="font-family:'Liberation Serif','Times New Roman',serif" >532</text>
<line x1="1387.9" y1="2094.0" x2="1387.9" y2="2115.5" stroke="#000" stroke-width="4.5" stroke-linecap="butt"/>
<text x="1387.9" y="2189.5" font-size="72" text-anchor="middle" fill="#000" style="font-family:'Liberation Serif','Times New Roman',serif" >534</text>
<line x1="1188.5" y1="2094.0" x2="1188.5" y2="2115.5" stroke="#000" stroke-width="4.5" stroke-linecap="butt"/>
<text x="1188.5" y="2189.5" font-size="72" text-anchor="middle" fill="#000" style="font-family:'Liberation Serif','Times New Roman',serif" >536</text>
<line x1="2085.7" y1="2094.0" x2="2085.7" y2="2103.6" stroke="#000" stroke-width="4.5" stroke-linecap="butt"/>
<line x1="1886.3" y1="2094.0" x2="1886.3" y2="2103.6" stroke="#000" stroke-width="4.5" stroke-linecap="butt"/>
<line x1="1687.0" y1="2094.0" x2="1687.0" y2="2103.6" stroke="#000" stroke-width="4.5" stroke-linecap="butt"/>
<line x1="1487.6" y1="2094.0" x2="1487.6" y2="2103.6" stroke="#000" stroke-width="4.5" stroke-linecap="butt"/>
<line x1="1288.2" y1="2094.0" x2="1288.2" y2="2103.6" stroke="#000" stroke-width="4.5" stroke-linecap="butt"/>
<line x1="1188.5" y1="1209.4" x2="1199.6" y2="1209.4" stroke="#000" stroke-width="4.5" stroke-linecap="butt"/>
<line x1="1188.5" y1="1325.3" x2="1211.8" y2="1325.3" stroke="#000" stroke-width="4.5" stroke-linecap="butt"/>
<line x1="1188.5" y1="1441.2" x2="1199.6" y2="1441.2" stroke="#000" stroke-width="4.5" stroke-linecap="butt"/>
<line x1="1188.5" y1="1557.1" x2="1211.8" y2="1557.1" stroke="#000" stroke-width="4.5" stroke-linecap="butt"/>
<line x1="1188.5" y1="1673.0" x2="1199.6" y2="1673.0" stroke="#000" stroke-width="4.5" stroke-linecap="butt"/>
<line x1="1188.5" y1="1788.9" x2="1211.8" y2="1788.9" stroke="#000" stroke-width="4.5" stroke-linecap="butt"/>
<line x1="1188.5" y1="1904.8" x2="1199.6" y2="1904.8" stroke="#000" stroke-width="4.5" stroke-linecap="butt"/>
<line x1="1188.5" y1="2020.7" x2="1211.8" y2="2020.7" stroke="#000" stroke-width="4.5" stroke-linecap="butt"/>
<text x="1387.7" y="2285.0" font-size="72" text-anchor="start" fill="#000" style="font-family:'Liberation Serif','Times New Roman',serif" >Binding energy (eV)</text>
<text x="0.0" y="0.0" font-size="72" text-anchor="start" fill="#000" style="font-family:'Liberation Serif','Times New Roman',serif" transform="translate(1144.1,1782.4) rotate(-90)">Intensity (a.u.)</text>
<text x="1011.2" y="1199.4" font-size="108.7" text-anchor="start" fill="#000" style="font-family:'Liberation Serif','Times New Roman',serif" >(c)</text>
<text x="1961.4" y="1209.8" font-size="95" text-anchor="start" fill="#000" style="font-family:'Liberation Serif','Times New Roman',serif" >O 1s</text>
<rect x="1296.5" y="1142.3" width="13" height="13" fill="#000"/>
<text x="1399.2" y="1172.0" font-size="70" text-anchor="start" fill="#000" style="font-family:'Liberation Serif','Times New Roman',serif" >raw data</text>
<line x1="1223.8" y1="1234.6" x2="1384.3" y2="1234.6" stroke="#ff0000" stroke-width="5" stroke-linecap="butt"/>
<text x="1399.7" y="1257.8" font-size="70" text-anchor="start" fill="#000" style="font-family:'Liberation Serif','Times New Roman',serif" >fit</text>
<text x="1910.7" y="1601.2" font-size="60.7" text-anchor="start" fill="#0a5f9e" style="font-family:'Liberation Sans',Arial,sans-serif;font-weight:bold" >lattice</text>
<text x="1910.7" y="1678.5" font-size="60.7" text-anchor="start" fill="#0a5f9e" style="font-family:'Liberation Sans',Arial,sans-serif;font-weight:bold" >oxide</text>
<text x="1293.3" y="1785.8" font-size="60.7" text-anchor="start" fill="#008000" style="font-family:'Liberation Sans',Arial,sans-serif;font-weight:bold" >defective</text>
<text x="1354.1" y="1863.1" font-size="60.7" text-anchor="start" fill="#008000" style="font-family:'Liberation Sans',Arial,sans-serif;font-weight:bold" >oxide</text>
</svg></body></html>
